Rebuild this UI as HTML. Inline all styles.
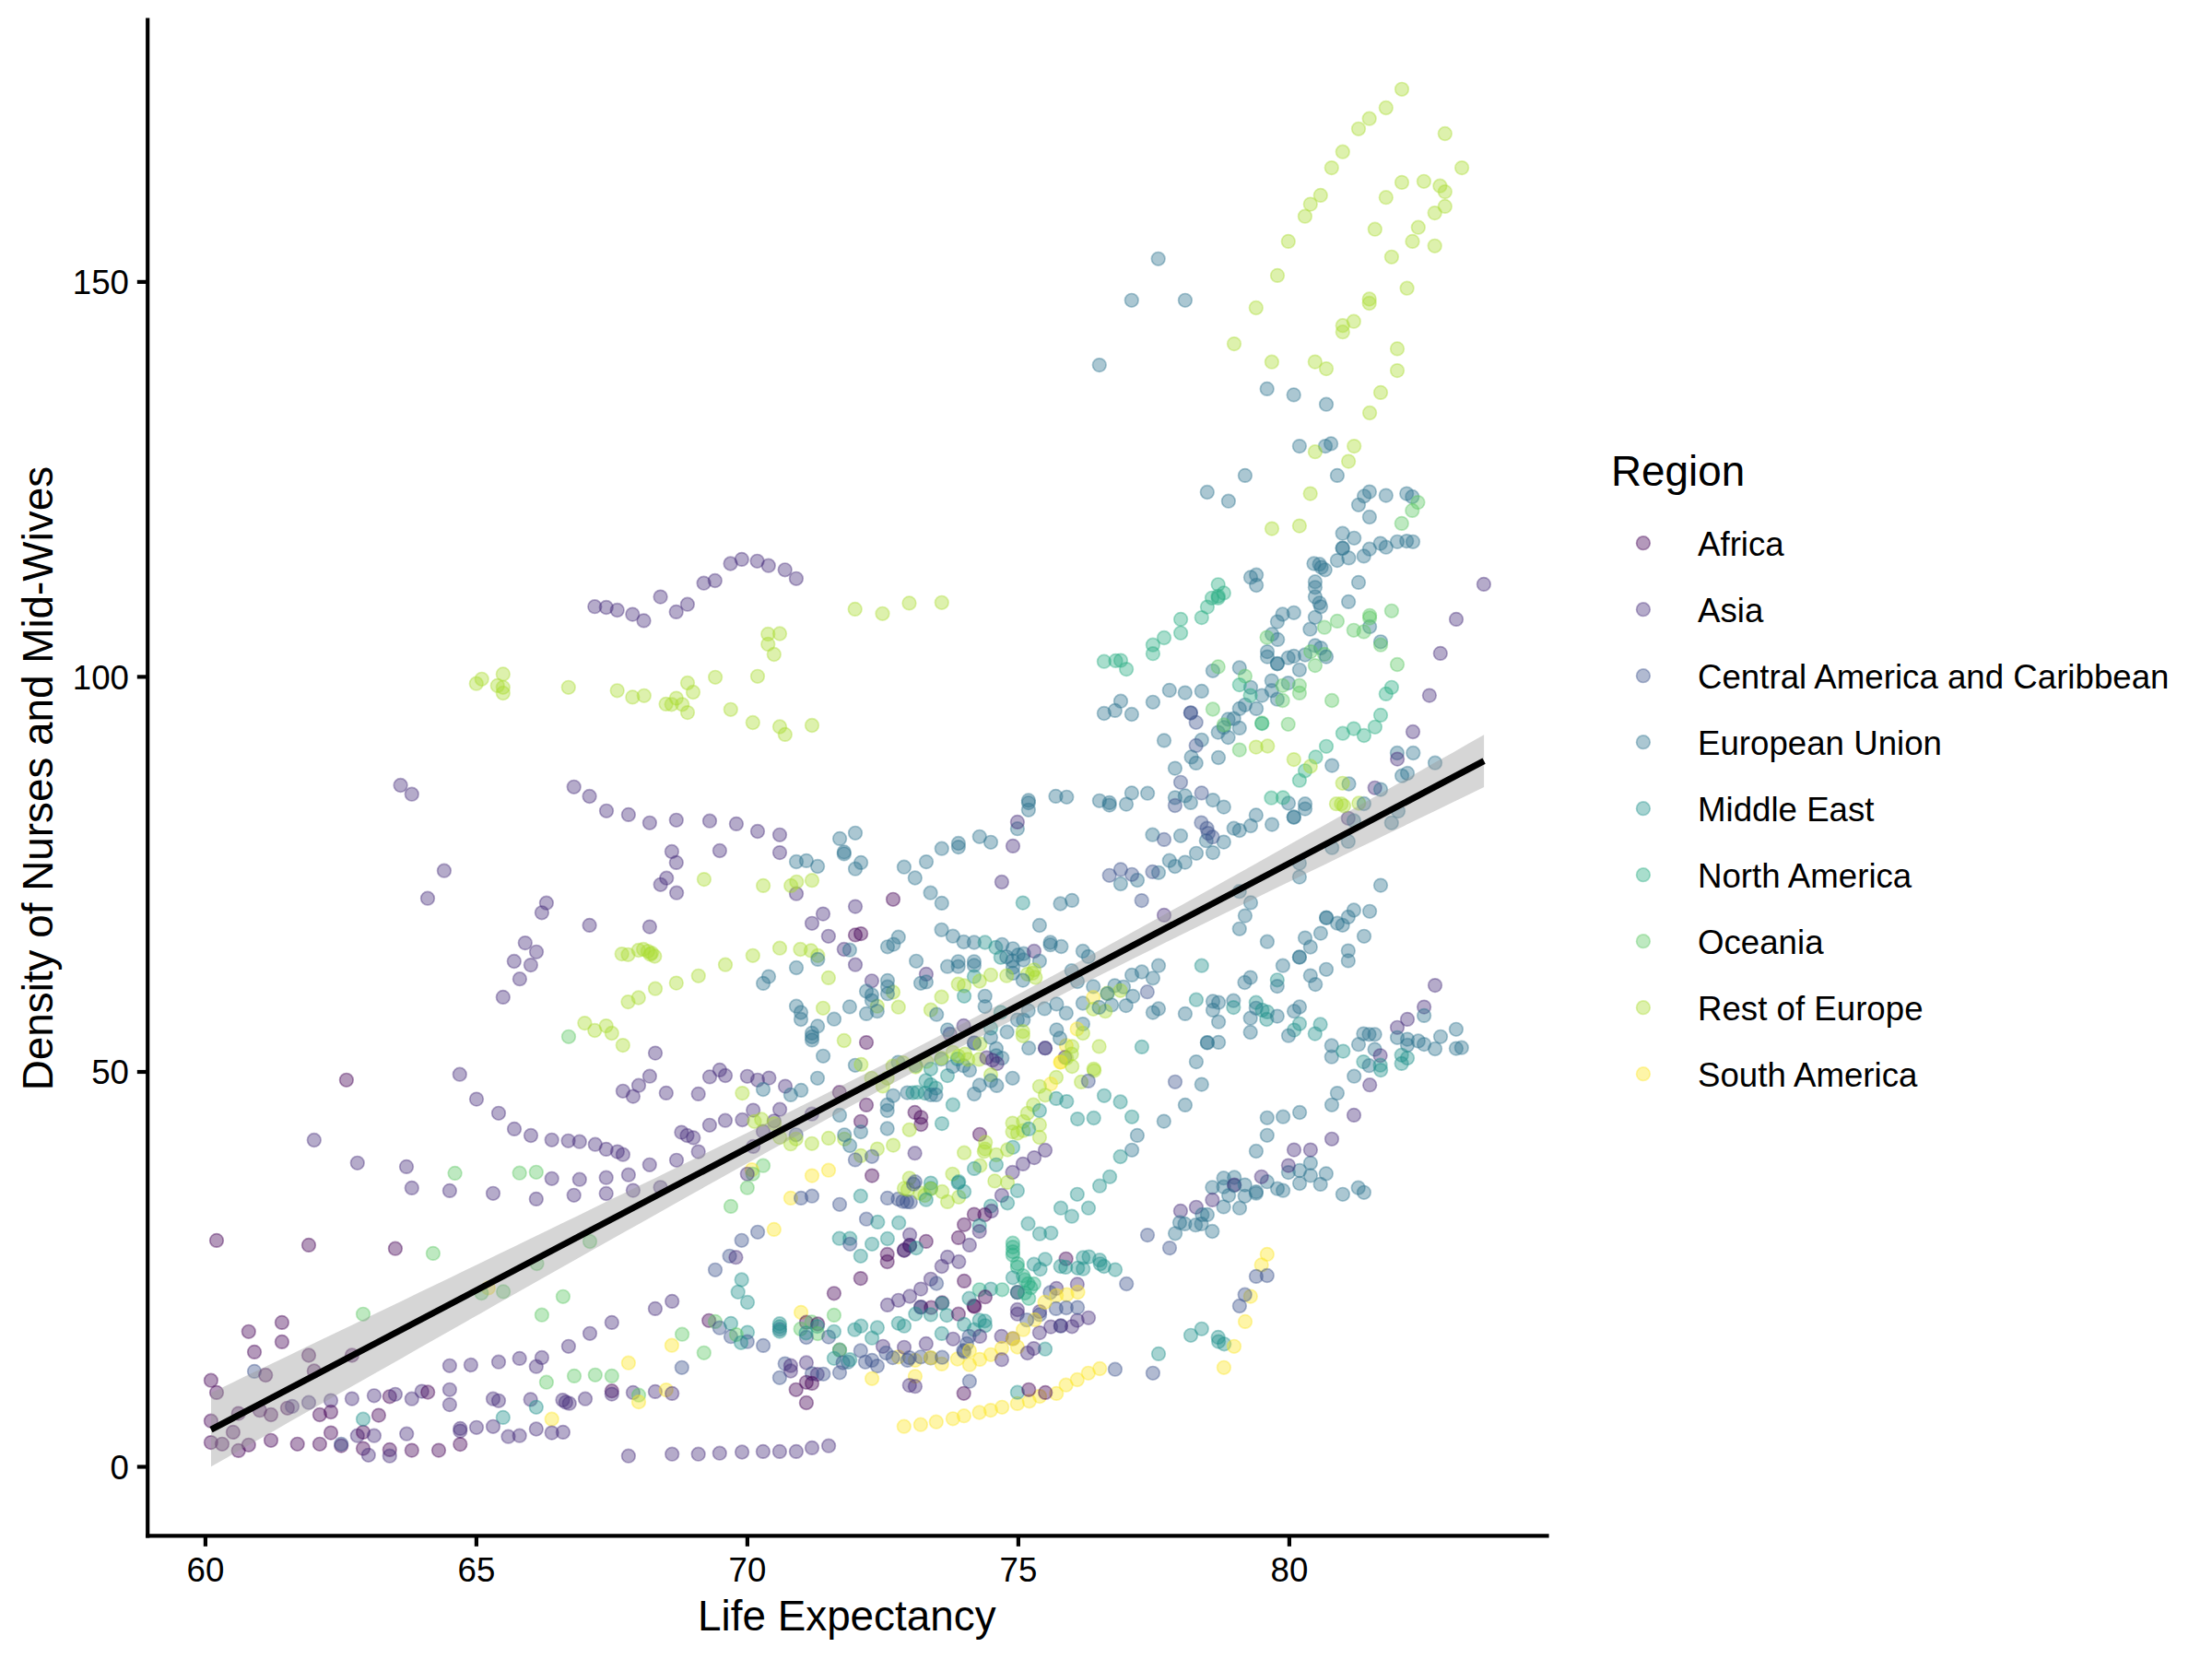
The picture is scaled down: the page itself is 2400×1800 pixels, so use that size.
<!DOCTYPE html>
<html><head><meta charset="utf-8"><title>chart</title>
<style>
html,body{margin:0;padding:0;background:#fff;}
body{width:2400px;height:1800px;overflow:hidden;}
svg{display:block;}
text{font-family:"Liberation Sans",sans-serif;fill:#000;}
.t{font-size:36.67px;}
.T{font-size:45.83px;}
.p circle{fill-opacity:.4;stroke-opacity:.4;stroke-width:1.7;}
.c0{fill:#440154;stroke:#440154;}
.c1{fill:#472D7B;stroke:#472D7B;}
.c2{fill:#3B528B;stroke:#3B528B;}
.c3{fill:#2C728E;stroke:#2C728E;}
.c4{fill:#21908C;stroke:#21908C;}
.c5{fill:#27AD81;stroke:#27AD81;}
.c6{fill:#5DC863;stroke:#5DC863;}
.c7{fill:#AADC32;stroke:#AADC32;}
.c8{fill:#FDE725;stroke:#FDE725;}
</style></head><body>
<svg xmlns="http://www.w3.org/2000/svg" width="2400" height="1800" viewBox="0 0 2400 1800">
<rect width="2400" height="1800" fill="#fff"/>
<g class="p">
<circle class="c0" cx="999.3" cy="1212.3" r="7.3"/>
<circle class="c0" cx="999.3" cy="1220.0" r="7.3"/>
<circle class="c7" cx="1005.4" cy="1151.7" r="7.3"/>
<circle class="c3" cx="1021.2" cy="1149.2" r="7.3"/>
<circle class="c7" cx="1021.7" cy="1148.1" r="7.3"/>
<circle class="c7" cx="1033.9" cy="1141.8" r="7.3"/>
<circle class="c4" cx="1009.9" cy="1159.8" r="7.3"/>
<circle class="c4" cx="1028.0" cy="1167.1" r="7.3"/>
<circle class="c3" cx="1033.9" cy="1157.1" r="7.3"/>
<circle class="c4" cx="1038.9" cy="1149.0" r="7.3"/>
<circle class="c3" cx="1045.2" cy="1156.2" r="7.3"/>
<circle class="c3" cx="1052.0" cy="1161.2" r="7.3"/>
<circle class="c7" cx="1047.0" cy="1143.6" r="7.3"/>
<circle class="c7" cx="1050.2" cy="1149.4" r="7.3"/>
<circle class="c7" cx="1062.4" cy="1149.4" r="7.3"/>
<circle class="c7" cx="1039.8" cy="1145.8" r="7.3"/>
<circle class="c1" cx="1057.0" cy="1131.4" r="7.3"/>
<circle class="c3" cx="1057.0" cy="1131.8" r="7.3"/>
<circle class="c7" cx="1063.3" cy="1132.7" r="7.3"/>
<circle class="c3" cx="1080.9" cy="1137.7" r="7.3"/>
<circle class="c3" cx="1080.9" cy="1145.4" r="7.3"/>
<circle class="c3" cx="1087.3" cy="1148.1" r="7.3"/>
<circle class="c1" cx="1070.5" cy="1147.6" r="7.3"/>
<circle class="c1" cx="1076.9" cy="1150.3" r="7.3"/>
<circle class="c1" cx="1081.8" cy="1154.0" r="7.3"/>
<circle class="c7" cx="1075.0" cy="1166.2" r="7.3"/>
<circle class="c3" cx="1075.0" cy="1172.5" r="7.3"/>
<circle class="c3" cx="1062.8" cy="1177.5" r="7.3"/>
<circle class="c3" cx="1081.4" cy="1177.9" r="7.3"/>
<circle class="c3" cx="1057.0" cy="1187.0" r="7.3"/>
<circle class="c3" cx="1098.6" cy="1169.8" r="7.3"/>
<circle class="c4" cx="1004.5" cy="1172.5" r="7.3"/>
<circle class="c4" cx="1009.9" cy="1177.0" r="7.3"/>
<circle class="c4" cx="1015.4" cy="1180.6" r="7.3"/>
<circle class="c4" cx="1003.6" cy="1186.1" r="7.3"/>
<circle class="c3" cx="1009.9" cy="1187.9" r="7.3"/>
<circle class="c3" cx="1015.4" cy="1187.9" r="7.3"/>
<circle class="c4" cx="1033.9" cy="1198.7" r="7.3"/>
<circle class="c4" cx="1022.0" cy="1219.1" r="7.3"/>
<circle class="c3" cx="1116.2" cy="1137.2" r="7.3"/>
<circle class="c2" cx="1134.0" cy="1137.2" r="7.3"/>
<circle class="c1" cx="1134.0" cy="1137.2" r="7.3"/>
<circle class="c8" cx="1156.9" cy="1134.5" r="7.3"/>
<circle class="c7" cx="1163.2" cy="1135.4" r="7.3"/>
<circle class="c1" cx="1155.5" cy="1147.2" r="7.3"/>
<circle class="c7" cx="1162.7" cy="1143.6" r="7.3"/>
<circle class="c8" cx="1150.5" cy="1152.6" r="7.3"/>
<circle class="c8" cx="1151.0" cy="1152.2" r="7.3"/>
<circle class="c7" cx="1163.2" cy="1157.1" r="7.3"/>
<circle class="c7" cx="1157.3" cy="1148.1" r="7.3"/>
<circle class="c7" cx="1192.6" cy="1135.4" r="7.3"/>
<circle class="c7" cx="1186.7" cy="1159.8" r="7.3"/>
<circle class="c7" cx="1187.2" cy="1161.6" r="7.3"/>
<circle class="c7" cx="1173.1" cy="1173.9" r="7.3"/>
<circle class="c2" cx="1180.8" cy="1172.9" r="7.3"/>
<circle class="c7" cx="1146.0" cy="1168.9" r="7.3"/>
<circle class="c8" cx="1140.1" cy="1176.1" r="7.3"/>
<circle class="c7" cx="1127.9" cy="1178.8" r="7.3"/>
<circle class="c7" cx="1134.0" cy="1188.3" r="7.3"/>
<circle class="c7" cx="1121.2" cy="1198.7" r="7.3"/>
<circle class="c7" cx="1114.8" cy="1207.8" r="7.3"/>
<circle class="c7" cx="1110.3" cy="1216.8" r="7.3"/>
<circle class="c7" cx="1098.6" cy="1218.6" r="7.3"/>
<circle class="c7" cx="1127.9" cy="1220.4" r="7.3"/>
<circle class="c7" cx="1098.6" cy="1228.1" r="7.3"/>
<circle class="c7" cx="1104.0" cy="1229.5" r="7.3"/>
<circle class="c7" cx="1110.3" cy="1226.7" r="7.3"/>
<circle class="c7" cx="1127.9" cy="1234.0" r="7.3"/>
<circle class="c4" cx="1146.0" cy="1191.9" r="7.3"/>
<circle class="c4" cx="1157.3" cy="1195.1" r="7.3"/>
<circle class="c4" cx="1127.9" cy="1205.0" r="7.3"/>
<circle class="c4" cx="1116.2" cy="1224.9" r="7.3"/>
<circle class="c4" cx="1169.1" cy="1214.1" r="7.3"/>
<circle class="c4" cx="1186.7" cy="1213.0" r="7.3"/>
<circle class="c4" cx="1198.0" cy="1188.8" r="7.3"/>
<circle class="c4" cx="1099.0" cy="1244.8" r="7.3"/>
<circle class="c0" cx="1063.0" cy="1230.8" r="7.3"/>
<circle class="c7" cx="1069.2" cy="1239.4" r="7.3"/>
<circle class="c7" cx="1068.7" cy="1246.6" r="7.3"/>
<circle class="c7" cx="1067.8" cy="1249.3" r="7.3"/>
<circle class="c7" cx="1046.1" cy="1250.7" r="7.3"/>
<circle class="c7" cx="1080.9" cy="1253.0" r="7.3"/>
<circle class="c7" cx="1093.1" cy="1247.5" r="7.3"/>
<circle class="c7" cx="1063.3" cy="1264.7" r="7.3"/>
<circle class="c7" cx="1033.5" cy="1273.8" r="7.3"/>
<circle class="c4" cx="1057.0" cy="1267.9" r="7.3"/>
<circle class="c4" cx="1080.9" cy="1263.8" r="7.3"/>
<circle class="c1" cx="1098.6" cy="1272.0" r="7.3"/>
<circle class="c1" cx="1109.9" cy="1262.9" r="7.3"/>
<circle class="c1" cx="1122.1" cy="1256.1" r="7.3"/>
<circle class="c1" cx="1134.0" cy="1248.0" r="7.3"/>
<circle class="c4" cx="1204.1" cy="1276.8" r="7.3"/>
<circle class="c4" cx="1193.1" cy="1286.7" r="7.3"/>
<circle class="c4" cx="1168.8" cy="1295.8" r="7.3"/>
<circle class="c4" cx="1151.0" cy="1310.7" r="7.3"/>
<circle class="c4" cx="1181.0" cy="1310.7" r="7.3"/>
<circle class="c4" cx="1162.9" cy="1319.7" r="7.3"/>
<circle class="c4" cx="1128.0" cy="1338.7" r="7.3"/>
<circle class="c4" cx="1140.3" cy="1337.8" r="7.3"/>
<circle class="c4" cx="1134.0" cy="1366.3" r="7.3"/>
<circle class="c4" cx="1121.8" cy="1371.7" r="7.3"/>
<circle class="c4" cx="1128.6" cy="1377.1" r="7.3"/>
<circle class="c0" cx="1156.6" cy="1365.8" r="7.3"/>
<circle class="c4" cx="1150.7" cy="1374.0" r="7.3"/>
<circle class="c4" cx="1156.2" cy="1374.9" r="7.3"/>
<circle class="c4" cx="1169.3" cy="1375.8" r="7.3"/>
<circle class="c4" cx="1175.2" cy="1376.7" r="7.3"/>
<circle class="c4" cx="1175.2" cy="1364.5" r="7.3"/>
<circle class="c4" cx="1181.5" cy="1363.6" r="7.3"/>
<circle class="c4" cx="1193.1" cy="1367.2" r="7.3"/>
<circle class="c4" cx="1193.7" cy="1371.3" r="7.3"/>
<circle class="c4" cx="1197.8" cy="1374.0" r="7.3"/>
<circle class="c4" cx="1210.0" cy="1377.6" r="7.3"/>
<circle class="c2" cx="1222.2" cy="1393.0" r="7.3"/>
<circle class="c2" cx="1245.0" cy="1340.1" r="7.3"/>
<circle class="c2" cx="1269.0" cy="1354.1" r="7.3"/>
<circle class="c1" cx="1280.9" cy="1313.9" r="7.3"/>
<circle class="c1" cx="1297.9" cy="1309.8" r="7.3"/>
<circle class="c3" cx="1280.0" cy="1326.5" r="7.3"/>
<circle class="c3" cx="1285.5" cy="1327.9" r="7.3"/>
<circle class="c3" cx="1275.1" cy="1338.3" r="7.3"/>
<circle class="c3" cx="1297.2" cy="1329.2" r="7.3"/>
<circle class="c3" cx="1303.5" cy="1327.9" r="7.3"/>
<circle class="c3" cx="1304.4" cy="1317.9" r="7.3"/>
<circle class="c3" cx="1309.9" cy="1317.9" r="7.3"/>
<circle class="c3" cx="1315.3" cy="1336.0" r="7.3"/>
<circle class="c5" cx="1121.8" cy="1393.0" r="7.3"/>
<circle class="c1" cx="1168.8" cy="1393.4" r="7.3"/>
<circle class="c1" cx="1146.2" cy="1397.9" r="7.3"/>
<circle class="c2" cx="1139.4" cy="1402.5" r="7.3"/>
<circle class="c8" cx="1157.5" cy="1404.7" r="7.3"/>
<circle class="c8" cx="1169.5" cy="1402.0" r="7.3"/>
<circle class="c8" cx="1146.2" cy="1405.6" r="7.3"/>
<circle class="c8" cx="1128.1" cy="1515.0" r="7.3"/>
<circle class="c8" cx="1146.2" cy="1511.9" r="7.3"/>
<circle class="c8" cx="1156.6" cy="1502.7" r="7.3"/>
<circle class="c8" cx="1168.8" cy="1497.0" r="7.3"/>
<circle class="c8" cx="1180.8" cy="1489.8" r="7.3"/>
<circle class="c8" cx="1193.2" cy="1485.0" r="7.3"/>
<circle class="c0" cx="1134.2" cy="1510.9" r="7.3"/>
<circle class="c2" cx="1209.9" cy="1485.7" r="7.3"/>
<circle class="c2" cx="1250.9" cy="1489.8" r="7.3"/>
<circle class="c4" cx="1257.0" cy="1468.9" r="7.3"/>
<circle class="c4" cx="1292.0" cy="1448.8" r="7.3"/>
<circle class="c4" cx="1303.8" cy="1441.8" r="7.3"/>
<circle class="c4" cx="1321.7" cy="1450.9" r="7.3"/>
<circle class="c4" cx="1322.1" cy="1455.6" r="7.3"/>
<circle class="c4" cx="1328.2" cy="1458.3" r="7.3"/>
<circle class="c8" cx="1339.0" cy="1460.8" r="7.3"/>
<circle class="c8" cx="1327.9" cy="1483.8" r="7.3"/>
<circle class="c8" cx="1351.0" cy="1433.9" r="7.3"/>
<circle class="c2" cx="1344.9" cy="1417.0" r="7.3"/>
<circle class="c4" cx="1134.0" cy="1463.7" r="7.3"/>
<circle class="c1" cx="1121.6" cy="1463.1" r="7.3"/>
<circle class="c1" cx="1127.9" cy="1446.1" r="7.3"/>
<circle class="c1" cx="1140.1" cy="1439.6" r="7.3"/>
<circle class="c2" cx="1150.9" cy="1438.7" r="7.3"/>
<circle class="c1" cx="1150.9" cy="1438.4" r="7.3"/>
<circle class="c1" cx="1163.1" cy="1439.3" r="7.3"/>
<circle class="c1" cx="1168.8" cy="1432.6" r="7.3"/>
<circle class="c1" cx="1181.0" cy="1429.8" r="7.3"/>
<circle class="c2" cx="1145.8" cy="1419.9" r="7.3"/>
<circle class="c2" cx="1156.9" cy="1419.0" r="7.3"/>
<circle class="c2" cx="1169.1" cy="1418.6" r="7.3"/>
<circle class="c1" cx="1128.1" cy="1423.1" r="7.3"/>
<circle class="c2" cx="1128.1" cy="1426.4" r="7.3"/>
<circle class="c8" cx="1122.7" cy="1431.9" r="7.3"/>
<circle class="c8" cx="1133.6" cy="1412.9" r="7.3"/>
<circle class="c5" cx="1197.9" cy="717.7" r="7.3"/>
<circle class="c5" cx="1210.5" cy="716.9" r="7.3"/>
<circle class="c5" cx="1216.0" cy="716.6" r="7.3"/>
<circle class="c5" cx="1222.1" cy="726.1" r="7.3"/>
<circle class="c5" cx="1250.9" cy="699.7" r="7.3"/>
<circle class="c5" cx="1250.9" cy="709.2" r="7.3"/>
<circle class="c5" cx="1263.0" cy="692.0" r="7.3"/>
<circle class="c5" cx="1281.1" cy="671.9" r="7.3"/>
<circle class="c5" cx="1281.1" cy="686.8" r="7.3"/>
<circle class="c5" cx="1303.8" cy="670.1" r="7.3"/>
<circle class="c5" cx="1309.9" cy="658.6" r="7.3"/>
<circle class="c5" cx="1315.0" cy="648.8" r="7.3"/>
<circle class="c5" cx="1321.7" cy="646.8" r="7.3"/>
<circle class="c5" cx="1321.7" cy="634.3" r="7.3"/>
<circle class="c5" cx="1327.8" cy="643.4" r="7.3"/>
<circle class="c5" cx="1321.7" cy="648.8" r="7.3"/>
<circle class="c3" cx="1357.0" cy="626.4" r="7.3"/>
<circle class="c3" cx="1363.1" cy="623.7" r="7.3"/>
<circle class="c3" cx="1363.1" cy="635.0" r="7.3"/>
<circle class="c3" cx="1425.5" cy="611.5" r="7.3"/>
<circle class="c3" cx="1431.6" cy="612.2" r="7.3"/>
<circle class="c3" cx="1433.6" cy="615.6" r="7.3"/>
<circle class="c3" cx="1437.7" cy="618.3" r="7.3"/>
<circle class="c3" cx="1426.9" cy="631.2" r="7.3"/>
<circle class="c3" cx="1426.9" cy="637.3" r="7.3"/>
<circle class="c3" cx="1426.9" cy="647.5" r="7.3"/>
<circle class="c3" cx="1431.6" cy="654.3" r="7.3"/>
<circle class="c3" cx="1433.0" cy="658.3" r="7.3"/>
<circle class="c3" cx="1426.9" cy="669.8" r="7.3"/>
<circle class="c3" cx="1421.4" cy="682.7" r="7.3"/>
<circle class="c3" cx="1403.8" cy="664.8" r="7.3"/>
<circle class="c3" cx="1391.6" cy="666.5" r="7.3"/>
<circle class="c3" cx="1385.9" cy="674.6" r="7.3"/>
<circle class="c3" cx="1380.1" cy="688.2" r="7.3"/>
<circle class="c3" cx="1386.2" cy="693.9" r="7.3"/>
<circle class="c3" cx="1375.0" cy="707.1" r="7.3"/>
<circle class="c3" cx="1375.0" cy="712.6" r="7.3"/>
<circle class="c3" cx="1385.9" cy="720.0" r="7.3"/>
<circle class="c3" cx="1385.9" cy="720.3" r="7.3"/>
<circle class="c3" cx="1397.7" cy="713.7" r="7.3"/>
<circle class="c3" cx="1403.8" cy="711.9" r="7.3"/>
<circle class="c3" cx="1416.0" cy="710.5" r="7.3"/>
<circle class="c3" cx="1426.9" cy="700.4" r="7.3"/>
<circle class="c3" cx="1433.0" cy="703.1" r="7.3"/>
<circle class="c3" cx="1409.9" cy="726.8" r="7.3"/>
<circle class="c3" cx="1344.8" cy="724.5" r="7.3"/>
<circle class="c3" cx="1315.9" cy="727.8" r="7.3"/>
<circle class="c3" cx="1379.8" cy="738.6" r="7.3"/>
<circle class="c3" cx="1397.7" cy="741.1" r="7.3"/>
<circle class="c3" cx="1357.0" cy="745.8" r="7.3"/>
<circle class="c3" cx="1379.8" cy="749.2" r="7.3"/>
<circle class="c3" cx="1369.2" cy="754.6" r="7.3"/>
<circle class="c3" cx="1385.9" cy="758.7" r="7.3"/>
<circle class="c3" cx="1363.1" cy="768.9" r="7.3"/>
<circle class="c3" cx="1350.9" cy="764.8" r="7.3"/>
<circle class="c3" cx="1344.8" cy="768.9" r="7.3"/>
<circle class="c3" cx="1338.7" cy="779.7" r="7.3"/>
<circle class="c3" cx="1332.6" cy="780.4" r="7.3"/>
<circle class="c3" cx="1344.8" cy="789.9" r="7.3"/>
<circle class="c3" cx="1327.8" cy="789.2" r="7.3"/>
<circle class="c3" cx="1321.7" cy="794.6" r="7.3"/>
<circle class="c3" cx="1332.6" cy="800.1" r="7.3"/>
<circle class="c3" cx="1303.8" cy="802.8" r="7.3"/>
<circle class="c3" cx="1263.0" cy="803.4" r="7.3"/>
<circle class="c3" cx="1268.8" cy="748.9" r="7.3"/>
<circle class="c3" cx="1285.8" cy="751.6" r="7.3"/>
<circle class="c3" cx="1303.8" cy="749.9" r="7.3"/>
<circle class="c3" cx="1250.9" cy="761.8" r="7.3"/>
<circle class="c3" cx="1216.0" cy="760.7" r="7.3"/>
<circle class="c3" cx="1209.8" cy="770.9" r="7.3"/>
<circle class="c3" cx="1197.9" cy="774.0" r="7.3"/>
<circle class="c3" cx="1227.9" cy="775.0" r="7.3"/>
<circle class="c6" cx="1321.7" cy="723.4" r="7.3"/>
<circle class="c6" cx="1350.9" cy="733.6" r="7.3"/>
<circle class="c6" cx="1374.6" cy="691.6" r="7.3"/>
<circle class="c6" cx="1437.0" cy="680.7" r="7.3"/>
<circle class="c6" cx="1426.9" cy="722.1" r="7.3"/>
<circle class="c6" cx="1422.1" cy="707.1" r="7.3"/>
<circle class="c6" cx="1437.0" cy="709.9" r="7.3"/>
<circle class="c6" cx="1391.6" cy="743.8" r="7.3"/>
<circle class="c6" cx="1409.9" cy="743.8" r="7.3"/>
<circle class="c6" cx="1409.9" cy="751.9" r="7.3"/>
<circle class="c6" cx="1391.6" cy="760.0" r="7.3"/>
<circle class="c6" cx="1315.9" cy="769.5" r="7.3"/>
<circle class="c6" cx="1369.2" cy="784.5" r="7.3"/>
<circle class="c5" cx="1369.2" cy="785.1" r="7.3"/>
<circle class="c6" cx="1397.7" cy="785.8" r="7.3"/>
<circle class="c6" cx="1327.8" cy="786.5" r="7.3"/>
<circle class="c6" cx="1344.8" cy="813.6" r="7.3"/>
<circle class="c5" cx="1344.8" cy="743.1" r="7.3"/>
<circle class="c5" cx="1356.6" cy="754.6" r="7.3"/>
<circle class="c7" cx="1362.8" cy="810.6" r="7.3"/>
<circle class="c7" cx="1375.3" cy="809.5" r="7.3"/>
<circle class="c2" cx="1291.9" cy="773.3" r="7.3"/>
<circle class="c2" cx="1291.9" cy="773.6" r="7.3"/>
<circle class="c2" cx="1297.7" cy="783.8" r="7.3"/>
<circle class="c2" cx="1297.7" cy="808.9" r="7.3"/>
<circle class="c7" cx="1521.0" cy="96.8" r="7.3"/>
<circle class="c7" cx="1503.8" cy="117.0" r="7.3"/>
<circle class="c7" cx="1485.7" cy="128.7" r="7.3"/>
<circle class="c7" cx="1474.0" cy="139.8" r="7.3"/>
<circle class="c7" cx="1456.8" cy="164.7" r="7.3"/>
<circle class="c7" cx="1444.8" cy="182.1" r="7.3"/>
<circle class="c7" cx="1432.8" cy="211.9" r="7.3"/>
<circle class="c7" cx="1421.8" cy="221.6" r="7.3"/>
<circle class="c7" cx="1415.9" cy="234.7" r="7.3"/>
<circle class="c7" cx="1397.8" cy="261.9" r="7.3"/>
<circle class="c7" cx="1386.0" cy="298.9" r="7.3"/>
<circle class="c7" cx="1362.8" cy="334.0" r="7.3"/>
<circle class="c7" cx="1339.0" cy="373.1" r="7.3"/>
<circle class="c7" cx="1379.9" cy="392.7" r="7.3"/>
<circle class="c7" cx="1567.8" cy="145.0" r="7.3"/>
<circle class="c7" cx="1586.1" cy="182.1" r="7.3"/>
<circle class="c7" cx="1521.0" cy="197.9" r="7.3"/>
<circle class="c7" cx="1544.9" cy="196.8" r="7.3"/>
<circle class="c7" cx="1562.4" cy="201.7" r="7.3"/>
<circle class="c7" cx="1567.8" cy="208.1" r="7.3"/>
<circle class="c7" cx="1503.8" cy="214.2" r="7.3"/>
<circle class="c7" cx="1567.8" cy="223.9" r="7.3"/>
<circle class="c7" cx="1556.7" cy="231.1" r="7.3"/>
<circle class="c7" cx="1538.8" cy="246.7" r="7.3"/>
<circle class="c7" cx="1491.8" cy="248.7" r="7.3"/>
<circle class="c7" cx="1532.5" cy="261.9" r="7.3"/>
<circle class="c7" cx="1556.7" cy="266.8" r="7.3"/>
<circle class="c7" cx="1509.9" cy="278.8" r="7.3"/>
<circle class="c7" cx="1526.6" cy="312.7" r="7.3"/>
<circle class="c7" cx="1485.7" cy="324.5" r="7.3"/>
<circle class="c7" cx="1485.7" cy="329.0" r="7.3"/>
<circle class="c7" cx="1468.8" cy="348.7" r="7.3"/>
<circle class="c7" cx="1456.8" cy="353.2" r="7.3"/>
<circle class="c7" cx="1456.8" cy="360.2" r="7.3"/>
<circle class="c3" cx="1256.7" cy="280.8" r="7.3"/>
<circle class="c3" cx="1227.8" cy="325.8" r="7.3"/>
<circle class="c3" cx="1285.9" cy="325.8" r="7.3"/>
<circle class="c3" cx="1192.8" cy="396.1" r="7.3"/>
<circle class="c3" cx="1374.7" cy="421.9" r="7.3"/>
<circle class="c3" cx="1403.7" cy="428.4" r="7.3"/>
<circle class="c3" cx="1192.9" cy="868.8" r="7.3"/>
<circle class="c3" cx="1203.7" cy="870.9" r="7.3"/>
<circle class="c3" cx="1203.7" cy="873.6" r="7.3"/>
<circle class="c3" cx="1222.0" cy="872.6" r="7.3"/>
<circle class="c3" cx="1227.9" cy="860.4" r="7.3"/>
<circle class="c3" cx="1245.1" cy="860.7" r="7.3"/>
<circle class="c3" cx="1274.9" cy="833.6" r="7.3"/>
<circle class="c3" cx="1292.6" cy="821.4" r="7.3"/>
<circle class="c3" cx="1297.7" cy="827.9" r="7.3"/>
<circle class="c3" cx="1322.0" cy="822.0" r="7.3"/>
<circle class="c3" cx="1274.9" cy="865.4" r="7.3"/>
<circle class="c3" cx="1285.8" cy="863.4" r="7.3"/>
<circle class="c3" cx="1291.9" cy="870.9" r="7.3"/>
<circle class="c3" cx="1316.0" cy="868.1" r="7.3"/>
<circle class="c3" cx="1327.8" cy="875.6" r="7.3"/>
<circle class="c3" cx="1362.8" cy="884.4" r="7.3"/>
<circle class="c3" cx="1357.0" cy="896.0" r="7.3"/>
<circle class="c3" cx="1338.7" cy="898.7" r="7.3"/>
<circle class="c3" cx="1344.8" cy="901.0" r="7.3"/>
<circle class="c3" cx="1380.1" cy="894.6" r="7.3"/>
<circle class="c3" cx="1398.0" cy="871.5" r="7.3"/>
<circle class="c3" cx="1416.0" cy="872.2" r="7.3"/>
<circle class="c3" cx="1416.0" cy="877.6" r="7.3"/>
<circle class="c3" cx="1403.8" cy="886.5" r="7.3"/>
<circle class="c3" cx="1403.8" cy="886.7" r="7.3"/>
<circle class="c3" cx="1445.2" cy="830.6" r="7.3"/>
<circle class="c3" cx="1463.5" cy="850.5" r="7.3"/>
<circle class="c3" cx="1250.5" cy="905.7" r="7.3"/>
<circle class="c3" cx="1281.0" cy="906.8" r="7.3"/>
<circle class="c3" cx="1308.8" cy="912.2" r="7.3"/>
<circle class="c3" cx="1327.8" cy="913.6" r="7.3"/>
<circle class="c3" cx="1316.0" cy="925.1" r="7.3"/>
<circle class="c3" cx="1298.0" cy="925.8" r="7.3"/>
<circle class="c3" cx="1285.8" cy="935.6" r="7.3"/>
<circle class="c3" cx="1268.8" cy="933.7" r="7.3"/>
<circle class="c3" cx="1274.9" cy="940.0" r="7.3"/>
<circle class="c3" cx="1257.0" cy="946.8" r="7.3"/>
<circle class="c3" cx="1234.0" cy="955.0" r="7.3"/>
<circle class="c3" cx="1215.9" cy="959.0" r="7.3"/>
<circle class="c2" cx="1281.0" cy="848.8" r="7.3"/>
<circle class="c2" cx="1303.7" cy="860.4" r="7.3"/>
<circle class="c2" cx="1274.9" cy="874.0" r="7.3"/>
<circle class="c2" cx="1303.4" cy="892.6" r="7.3"/>
<circle class="c2" cx="1309.5" cy="898.7" r="7.3"/>
<circle class="c2" cx="1310.9" cy="904.1" r="7.3"/>
<circle class="c2" cx="1315.6" cy="908.2" r="7.3"/>
<circle class="c2" cx="1263.0" cy="910.9" r="7.3"/>
<circle class="c2" cx="1203.7" cy="949.8" r="7.3"/>
<circle class="c2" cx="1215.9" cy="943.4" r="7.3"/>
<circle class="c2" cx="1228.1" cy="948.8" r="7.3"/>
<circle class="c2" cx="1250.5" cy="945.9" r="7.3"/>
<circle class="c2" cx="1238.7" cy="977.1" r="7.3"/>
<circle class="c1" cx="1263.0" cy="992.9" r="7.3"/>
<circle class="c1" cx="1462.8" cy="887.8" r="7.3"/>
<circle class="c5" cx="1379.4" cy="865.7" r="7.3"/>
<circle class="c5" cx="1392.0" cy="865.4" r="7.3"/>
<circle class="c5" cx="1409.9" cy="846.7" r="7.3"/>
<circle class="c5" cx="1416.0" cy="836.3" r="7.3"/>
<circle class="c5" cx="1427.5" cy="821.4" r="7.3"/>
<circle class="c7" cx="1403.8" cy="824.1" r="7.3"/>
<circle class="c7" cx="1421.8" cy="831.5" r="7.3"/>
<circle class="c7" cx="1456.7" cy="849.8" r="7.3"/>
<circle class="c7" cx="1449.9" cy="872.2" r="7.3"/>
<circle class="c7" cx="1455.3" cy="872.2" r="7.3"/>
<circle class="c7" cx="1458.0" cy="874.3" r="7.3"/>
<circle class="c7" cx="1474.3" cy="871.5" r="7.3"/>
<circle class="c3" cx="1468.9" cy="890.5" r="7.3"/>
<circle class="c3" cx="1462.8" cy="912.9" r="7.3"/>
<circle class="c3" cx="1445.2" cy="919.7" r="7.3"/>
<circle class="c3" cx="1409.9" cy="936.6" r="7.3"/>
<circle class="c3" cx="1409.9" cy="951.6" r="7.3"/>
<circle class="c3" cx="1344.8" cy="967.2" r="7.3"/>
<circle class="c3" cx="1357.0" cy="979.4" r="7.3"/>
<circle class="c3" cx="1350.9" cy="993.6" r="7.3"/>
<circle class="c3" cx="1344.8" cy="1007.8" r="7.3"/>
<circle class="c3" cx="1374.9" cy="1021.7" r="7.3"/>
<circle class="c3" cx="1416.0" cy="1017.6" r="7.3"/>
<circle class="c3" cx="1421.8" cy="1027.5" r="7.3"/>
<circle class="c3" cx="1432.9" cy="1012.6" r="7.3"/>
<circle class="c3" cx="1439.1" cy="995.6" r="7.3"/>
<circle class="c3" cx="1439.1" cy="995.9" r="7.3"/>
<circle class="c3" cx="1451.0" cy="1001.7" r="7.3"/>
<circle class="c3" cx="1456.7" cy="1003.8" r="7.3"/>
<circle class="c3" cx="1462.8" cy="995.0" r="7.3"/>
<circle class="c3" cx="1468.9" cy="987.5" r="7.3"/>
<circle class="c3" cx="1462.8" cy="1031.6" r="7.3"/>
<circle class="c3" cx="1462.8" cy="1042.4" r="7.3"/>
<circle class="c3" cx="1409.9" cy="1038.4" r="7.3"/>
<circle class="c3" cx="1409.9" cy="1038.6" r="7.3"/>
<circle class="c3" cx="1228.1" cy="1057.9" r="7.3"/>
<circle class="c3" cx="1238.9" cy="1054.5" r="7.3"/>
<circle class="c3" cx="1250.9" cy="1061.3" r="7.3"/>
<circle class="c3" cx="1257.0" cy="1047.7" r="7.3"/>
<circle class="c3" cx="1209.5" cy="1069.4" r="7.3"/>
<circle class="c3" cx="1219.0" cy="1070.8" r="7.3"/>
<circle class="c7" cx="1215.6" cy="1074.8" r="7.3"/>
<circle class="c3" cx="1229.2" cy="1080.9" r="7.3"/>
<circle class="c3" cx="1221.7" cy="1091.1" r="7.3"/>
<circle class="c3" cx="1206.1" cy="1090.4" r="7.3"/>
<circle class="c7" cx="1201.4" cy="1077.6" r="7.3"/>
<circle class="c3" cx="1201.4" cy="1078.2" r="7.3"/>
<circle class="c7" cx="1199.3" cy="1097.2" r="7.3"/>
<circle class="c2" cx="1244.8" cy="1076.2" r="7.3"/>
<circle class="c3" cx="1250.9" cy="1098.6" r="7.3"/>
<circle class="c3" cx="1257.0" cy="1094.5" r="7.3"/>
<circle class="c3" cx="1285.9" cy="1099.9" r="7.3"/>
<circle class="c4" cx="1303.8" cy="1047.7" r="7.3"/>
<circle class="c4" cx="1297.9" cy="1084.7" r="7.3"/>
<circle class="c3" cx="1316.0" cy="1086.4" r="7.3"/>
<circle class="c3" cx="1322.1" cy="1087.7" r="7.3"/>
<circle class="c3" cx="1316.0" cy="1095.9" r="7.3"/>
<circle class="c3" cx="1322.1" cy="1108.7" r="7.3"/>
<circle class="c3" cx="1338.3" cy="1085.7" r="7.3"/>
<circle class="c4" cx="1338.3" cy="1093.1" r="7.3"/>
<circle class="c3" cx="1350.5" cy="1066.0" r="7.3"/>
<circle class="c3" cx="1356.7" cy="1060.6" r="7.3"/>
<circle class="c4" cx="1385.8" cy="1063.3" r="7.3"/>
<circle class="c3" cx="1385.8" cy="1070.1" r="7.3"/>
<circle class="c3" cx="1391.9" cy="1047.7" r="7.3"/>
<circle class="c3" cx="1421.8" cy="1058.6" r="7.3"/>
<circle class="c3" cx="1427.2" cy="1068.1" r="7.3"/>
<circle class="c3" cx="1439.0" cy="1051.8" r="7.3"/>
<circle class="c4" cx="1362.8" cy="1087.7" r="7.3"/>
<circle class="c3" cx="1362.8" cy="1093.8" r="7.3"/>
<circle class="c4" cx="1369.5" cy="1095.9" r="7.3"/>
<circle class="c4" cx="1375.0" cy="1097.9" r="7.3"/>
<circle class="c4" cx="1374.3" cy="1106.0" r="7.3"/>
<circle class="c3" cx="1385.8" cy="1102.6" r="7.3"/>
<circle class="c3" cx="1356.7" cy="1104.7" r="7.3"/>
<circle class="c3" cx="1356.7" cy="1120.0" r="7.3"/>
<circle class="c3" cx="1410.0" cy="1092.5" r="7.3"/>
<circle class="c3" cx="1404.1" cy="1097.2" r="7.3"/>
<circle class="c4" cx="1410.0" cy="1110.8" r="7.3"/>
<circle class="c4" cx="1404.1" cy="1117.6" r="7.3"/>
<circle class="c3" cx="1398.0" cy="1123.7" r="7.3"/>
<circle class="c4" cx="1432.6" cy="1111.5" r="7.3"/>
<circle class="c4" cx="1426.8" cy="1121.6" r="7.3"/>
<circle class="c3" cx="1309.9" cy="1131.1" r="7.3"/>
<circle class="c3" cx="1309.9" cy="1131.4" r="7.3"/>
<circle class="c3" cx="1322.1" cy="1130.9" r="7.3"/>
<circle class="c4" cx="1238.9" cy="1135.9" r="7.3"/>
<circle class="c3" cx="1297.9" cy="1152.1" r="7.3"/>
<circle class="c3" cx="1303.8" cy="1176.6" r="7.3"/>
<circle class="c2" cx="1275.0" cy="1173.8" r="7.3"/>
<circle class="c3" cx="1444.8" cy="1134.5" r="7.3"/>
<circle class="c3" cx="1444.8" cy="1146.7" r="7.3"/>
<circle class="c4" cx="1457.3" cy="1140.6" r="7.3"/>
<circle class="c3" cx="1479.4" cy="1121.6" r="7.3"/>
<circle class="c3" cx="1485.5" cy="1122.3" r="7.3"/>
<circle class="c3" cx="1491.6" cy="1122.3" r="7.3"/>
<circle class="c3" cx="1474.0" cy="1133.2" r="7.3"/>
<circle class="c3" cx="1491.6" cy="1138.6" r="7.3"/>
<circle class="c4" cx="1479.4" cy="1152.1" r="7.3"/>
<circle class="c3" cx="1485.5" cy="1156.2" r="7.3"/>
<circle class="c3" cx="1469.2" cy="1167.7" r="7.3"/>
<circle class="c1" cx="1486.2" cy="1177.2" r="7.3"/>
<circle class="c3" cx="1450.9" cy="1186.1" r="7.3"/>
<circle class="c4" cx="1215.6" cy="1195.5" r="7.3"/>
<circle class="c4" cx="1228.1" cy="1211.8" r="7.3"/>
<circle class="c3" cx="1285.9" cy="1198.9" r="7.3"/>
<circle class="c3" cx="1262.8" cy="1216.6" r="7.3"/>
<circle class="c3" cx="1233.9" cy="1231.9" r="7.3"/>
<circle class="c3" cx="1228.1" cy="1247.8" r="7.3"/>
<circle class="c4" cx="1215.6" cy="1255.0" r="7.3"/>
<circle class="c3" cx="1409.9" cy="484.1" r="7.3"/>
<circle class="c3" cx="1438.0" cy="484.1" r="7.3"/>
<circle class="c3" cx="1444.1" cy="481.4" r="7.3"/>
<circle class="c3" cx="1350.9" cy="515.9" r="7.3"/>
<circle class="c3" cx="1309.8" cy="534.0" r="7.3"/>
<circle class="c3" cx="1332.9" cy="543.7" r="7.3"/>
<circle class="c3" cx="1450.9" cy="515.9" r="7.3"/>
<circle class="c3" cx="1485.9" cy="533.6" r="7.3"/>
<circle class="c3" cx="1480.1" cy="538.3" r="7.3"/>
<circle class="c3" cx="1474.0" cy="547.8" r="7.3"/>
<circle class="c3" cx="1503.8" cy="537.6" r="7.3"/>
<circle class="c3" cx="1526.2" cy="535.6" r="7.3"/>
<circle class="c3" cx="1532.3" cy="539.0" r="7.3"/>
<circle class="c3" cx="1485.9" cy="561.0" r="7.3"/>
<circle class="c3" cx="1456.7" cy="578.7" r="7.3"/>
<circle class="c3" cx="1469.2" cy="583.8" r="7.3"/>
<circle class="c3" cx="1456.7" cy="594.6" r="7.3"/>
<circle class="c3" cx="1456.7" cy="594.9" r="7.3"/>
<circle class="c3" cx="1485.9" cy="595.7" r="7.3"/>
<circle class="c3" cx="1497.7" cy="589.6" r="7.3"/>
<circle class="c3" cx="1503.8" cy="593.7" r="7.3"/>
<circle class="c3" cx="1516.0" cy="587.8" r="7.3"/>
<circle class="c3" cx="1526.2" cy="587.1" r="7.3"/>
<circle class="c3" cx="1533.0" cy="587.8" r="7.3"/>
<circle class="c7" cx="1426.9" cy="490.2" r="7.3"/>
<circle class="c7" cx="1469.2" cy="484.1" r="7.3"/>
<circle class="c7" cx="1463.1" cy="500.6" r="7.3"/>
<circle class="c7" cx="1421.7" cy="535.6" r="7.3"/>
<circle class="c7" cx="1380.0" cy="573.6" r="7.3"/>
<circle class="c7" cx="1409.9" cy="570.6" r="7.3"/>
<circle class="c6" cx="1520.8" cy="567.9" r="7.3"/>
<circle class="c6" cx="1532.3" cy="553.9" r="7.3"/>
<circle class="c6" cx="1538.4" cy="545.1" r="7.3"/>
<circle class="c3" cx="1315.4" cy="1288.3" r="7.3"/>
<circle class="c3" cx="1327.6" cy="1278.2" r="7.3"/>
<circle class="c3" cx="1339.2" cy="1277.5" r="7.3"/>
<circle class="c3" cx="1327.6" cy="1287.7" r="7.3"/>
<circle class="c3" cx="1339.2" cy="1286.3" r="7.3"/>
<circle class="c1" cx="1339.2" cy="1285.6" r="7.3"/>
<circle class="c3" cx="1333.1" cy="1297.1" r="7.3"/>
<circle class="c3" cx="1350.7" cy="1285.6" r="7.3"/>
<circle class="c3" cx="1350.7" cy="1297.8" r="7.3"/>
<circle class="c3" cx="1362.9" cy="1293.1" r="7.3"/>
<circle class="c3" cx="1362.9" cy="1294.7" r="7.3"/>
<circle class="c3" cx="1327.6" cy="1309.4" r="7.3"/>
<circle class="c3" cx="1345.0" cy="1310.7" r="7.3"/>
<circle class="c3" cx="1374.8" cy="1282.2" r="7.3"/>
<circle class="c3" cx="1386.0" cy="1289.7" r="7.3"/>
<circle class="c3" cx="1392.1" cy="1291.7" r="7.3"/>
<circle class="c3" cx="1397.9" cy="1272.1" r="7.3"/>
<circle class="c3" cx="1410.1" cy="1270.0" r="7.3"/>
<circle class="c3" cx="1410.1" cy="1284.0" r="7.3"/>
<circle class="c3" cx="1421.9" cy="1261.9" r="7.3"/>
<circle class="c3" cx="1421.9" cy="1275.4" r="7.3"/>
<circle class="c3" cx="1432.7" cy="1284.9" r="7.3"/>
<circle class="c3" cx="1438.8" cy="1273.4" r="7.3"/>
<circle class="c3" cx="1456.9" cy="1295.8" r="7.3"/>
<circle class="c3" cx="1473.7" cy="1288.7" r="7.3"/>
<circle class="c3" cx="1479.9" cy="1293.8" r="7.3"/>
<circle class="c3" cx="1362.9" cy="1249.0" r="7.3"/>
<circle class="c3" cx="1374.8" cy="1231.8" r="7.3"/>
<circle class="c3" cx="1374.8" cy="1212.8" r="7.3"/>
<circle class="c3" cx="1392.1" cy="1211.7" r="7.3"/>
<circle class="c3" cx="1410.1" cy="1207.0" r="7.3"/>
<circle class="c3" cx="1445.0" cy="1198.8" r="7.3"/>
<circle class="c1" cx="1315.4" cy="1301.9" r="7.3"/>
<circle class="c1" cx="1368.7" cy="1276.8" r="7.3"/>
<circle class="c1" cx="1397.9" cy="1264.6" r="7.3"/>
<circle class="c1" cx="1404.0" cy="1247.6" r="7.3"/>
<circle class="c1" cx="1421.9" cy="1247.6" r="7.3"/>
<circle class="c1" cx="1445.0" cy="1235.8" r="7.3"/>
<circle class="c1" cx="1469.0" cy="1209.9" r="7.3"/>
<circle class="c8" cx="1374.8" cy="1360.9" r="7.3"/>
<circle class="c8" cx="1368.7" cy="1372.4" r="7.3"/>
<circle class="c8" cx="1356.8" cy="1406.6" r="7.3"/>
<circle class="c2" cx="1362.9" cy="1384.9" r="7.3"/>
<circle class="c2" cx="1374.8" cy="1384.0" r="7.3"/>
<circle class="c2" cx="1350.7" cy="1404.7" r="7.3"/>
<circle class="c7" cx="1426.8" cy="392.6" r="7.3"/>
<circle class="c7" cx="1439.0" cy="400.1" r="7.3"/>
<circle class="c7" cx="1516.0" cy="378.4" r="7.3"/>
<circle class="c7" cx="1516.0" cy="402.1" r="7.3"/>
<circle class="c7" cx="1498.0" cy="425.9" r="7.3"/>
<circle class="c7" cx="1486.1" cy="448.0" r="7.3"/>
<circle class="c3" cx="1439.0" cy="438.7" r="7.3"/>
<circle class="c3" cx="1439.0" cy="712.6" r="7.3"/>
<circle class="c3" cx="1450.9" cy="608.1" r="7.3"/>
<circle class="c3" cx="1463.4" cy="605.4" r="7.3"/>
<circle class="c3" cx="1479.7" cy="603.4" r="7.3"/>
<circle class="c3" cx="1474.0" cy="631.9" r="7.3"/>
<circle class="c3" cx="1463.1" cy="652.9" r="7.3"/>
<circle class="c3" cx="1486.1" cy="680.0" r="7.3"/>
<circle class="c3" cx="1498.0" cy="696.3" r="7.3"/>
<circle class="c6" cx="1450.9" cy="673.9" r="7.3"/>
<circle class="c6" cx="1468.8" cy="683.8" r="7.3"/>
<circle class="c6" cx="1479.7" cy="685.4" r="7.3"/>
<circle class="c6" cx="1486.1" cy="667.8" r="7.3"/>
<circle class="c6" cx="1486.1" cy="670.5" r="7.3"/>
<circle class="c6" cx="1509.9" cy="662.8" r="7.3"/>
<circle class="c6" cx="1498.0" cy="699.7" r="7.3"/>
<circle class="c6" cx="1516.0" cy="721.0" r="7.3"/>
<circle class="c6" cx="1445.1" cy="760.0" r="7.3"/>
<circle class="c5" cx="1509.9" cy="745.8" r="7.3"/>
<circle class="c5" cx="1503.8" cy="752.9" r="7.3"/>
<circle class="c5" cx="1498.0" cy="775.9" r="7.3"/>
<circle class="c5" cx="1491.9" cy="788.8" r="7.3"/>
<circle class="c5" cx="1468.8" cy="790.6" r="7.3"/>
<circle class="c5" cx="1456.9" cy="795.7" r="7.3"/>
<circle class="c5" cx="1479.9" cy="798.0" r="7.3"/>
<circle class="c5" cx="1439.0" cy="809.8" r="7.3"/>
<circle class="c1" cx="1609.9" cy="633.9" r="7.3"/>
<circle class="c1" cx="1580.0" cy="671.9" r="7.3"/>
<circle class="c1" cx="1562.8" cy="708.9" r="7.3"/>
<circle class="c1" cx="1550.9" cy="754.6" r="7.3"/>
<circle class="c1" cx="1533.0" cy="794.0" r="7.3"/>
<circle class="c3" cx="1515.9" cy="817.0" r="7.3"/>
<circle class="c3" cx="1533.3" cy="817.0" r="7.3"/>
<circle class="c3" cx="1486.1" cy="988.8" r="7.3"/>
<circle class="c3" cx="1480.0" cy="1015.8" r="7.3"/>
<circle class="c3" cx="1479.9" cy="872.0" r="7.3"/>
<circle class="c1" cx="1491.7" cy="854.8" r="7.3"/>
<circle class="c3" cx="1498.0" cy="856.6" r="7.3"/>
<circle class="c3" cx="1521.1" cy="841.7" r="7.3"/>
<circle class="c3" cx="1527.0" cy="839.0" r="7.3"/>
<circle class="c1" cx="1516.1" cy="823.6" r="7.3"/>
<circle class="c3" cx="1557.0" cy="827.7" r="7.3"/>
<circle class="c3" cx="1517.0" cy="880.1" r="7.3"/>
<circle class="c3" cx="1509.8" cy="892.8" r="7.3"/>
<circle class="c3" cx="1498.0" cy="960.6" r="7.3"/>
<circle class="c1" cx="1557.0" cy="1069.1" r="7.3"/>
<circle class="c1" cx="1545.1" cy="1092.6" r="7.3"/>
<circle class="c1" cx="1527.0" cy="1105.9" r="7.3"/>
<circle class="c1" cx="1516.0" cy="1114.8" r="7.3"/>
<circle class="c1" cx="1497.6" cy="1145.3" r="7.3"/>
<circle class="c3" cx="1545.1" cy="1101.9" r="7.3"/>
<circle class="c3" cx="1516.0" cy="1125.8" r="7.3"/>
<circle class="c3" cx="1527.0" cy="1127.6" r="7.3"/>
<circle class="c3" cx="1527.0" cy="1134.0" r="7.3"/>
<circle class="c3" cx="1538.8" cy="1129.5" r="7.3"/>
<circle class="c3" cx="1545.1" cy="1133.1" r="7.3"/>
<circle class="c3" cx="1557.0" cy="1138.0" r="7.3"/>
<circle class="c3" cx="1563.0" cy="1124.8" r="7.3"/>
<circle class="c3" cx="1579.9" cy="1116.8" r="7.3"/>
<circle class="c3" cx="1579.9" cy="1137.6" r="7.3"/>
<circle class="c3" cx="1585.8" cy="1136.7" r="7.3"/>
<circle class="c4" cx="1497.6" cy="1155.7" r="7.3"/>
<circle class="c4" cx="1498.1" cy="1161.1" r="7.3"/>
<circle class="c4" cx="1520.7" cy="1144.8" r="7.3"/>
<circle class="c4" cx="1527.0" cy="1148.0" r="7.3"/>
<circle class="c4" cx="1520.7" cy="1153.9" r="7.3"/>
<circle class="c0" cx="235.0" cy="1345.9" r="7.3"/>
<circle class="c0" cx="335.0" cy="1350.9" r="7.3"/>
<circle class="c0" cx="428.9" cy="1354.7" r="7.3"/>
<circle class="c6" cx="469.9" cy="1359.9" r="7.3"/>
<circle class="c6" cx="493.6" cy="1272.9" r="7.3"/>
<circle class="c1" cx="487.9" cy="1291.9" r="7.3"/>
<circle class="c1" cx="446.8" cy="1288.9" r="7.3"/>
<circle class="c1" cx="441.0" cy="1265.9" r="7.3"/>
<circle class="c1" cx="387.8" cy="1261.8" r="7.3"/>
<circle class="c1" cx="340.8" cy="1237.0" r="7.3"/>
<circle class="c0" cx="228.9" cy="1497.7" r="7.3"/>
<circle class="c0" cx="235.0" cy="1510.9" r="7.3"/>
<circle class="c0" cx="228.9" cy="1541.7" r="7.3"/>
<circle class="c0" cx="228.9" cy="1565.1" r="7.3"/>
<circle class="c0" cx="241.0" cy="1566.8" r="7.3"/>
<circle class="c0" cx="252.9" cy="1553.9" r="7.3"/>
<circle class="c0" cx="258.7" cy="1533.6" r="7.3"/>
<circle class="c0" cx="258.7" cy="1573.9" r="7.3"/>
<circle class="c0" cx="269.8" cy="1567.8" r="7.3"/>
<circle class="c0" cx="269.8" cy="1444.8" r="7.3"/>
<circle class="c0" cx="276.0" cy="1466.9" r="7.3"/>
<circle class="c2" cx="276.0" cy="1487.9" r="7.3"/>
<circle class="c0" cx="288.2" cy="1492.0" r="7.3"/>
<circle class="c0" cx="281.8" cy="1530.2" r="7.3"/>
<circle class="c0" cx="294.0" cy="1535.0" r="7.3"/>
<circle class="c0" cx="294.0" cy="1562.8" r="7.3"/>
<circle class="c0" cx="305.9" cy="1434.9" r="7.3"/>
<circle class="c0" cx="305.9" cy="1455.9" r="7.3"/>
<circle class="c0" cx="311.9" cy="1527.8" r="7.3"/>
<circle class="c1" cx="317.0" cy="1525.9" r="7.3"/>
<circle class="c0" cx="322.7" cy="1566.8" r="7.3"/>
<circle class="c0" cx="335.0" cy="1470.5" r="7.3"/>
<circle class="c0" cx="340.8" cy="1487.5" r="7.3"/>
<circle class="c1" cx="335.0" cy="1521.7" r="7.3"/>
<circle class="c0" cx="346.9" cy="1535.0" r="7.3"/>
<circle class="c0" cx="346.9" cy="1566.8" r="7.3"/>
<circle class="c1" cx="359.0" cy="1519.6" r="7.3"/>
<circle class="c0" cx="359.0" cy="1532.0" r="7.3"/>
<circle class="c0" cx="359.0" cy="1554.6" r="7.3"/>
<circle class="c0" cx="370.2" cy="1568.6" r="7.3"/>
<circle class="c2" cx="370.2" cy="1566.8" r="7.3"/>
<circle class="c0" cx="381.9" cy="1470.5" r="7.3"/>
<circle class="c1" cx="381.9" cy="1517.6" r="7.3"/>
<circle class="c1" cx="387.8" cy="1557.7" r="7.3"/>
<circle class="c0" cx="394.0" cy="1553.9" r="7.3"/>
<circle class="c0" cx="394.0" cy="1571.6" r="7.3"/>
<circle class="c6" cx="394.0" cy="1425.8" r="7.3"/>
<circle class="c4" cx="394.0" cy="1539.7" r="7.3"/>
<circle class="c1" cx="399.8" cy="1578.8" r="7.3"/>
<circle class="c1" cx="405.9" cy="1514.3" r="7.3"/>
<circle class="c1" cx="405.9" cy="1557.7" r="7.3"/>
<circle class="c0" cx="410.9" cy="1535.6" r="7.3"/>
<circle class="c0" cx="422.8" cy="1515.3" r="7.3"/>
<circle class="c1" cx="428.9" cy="1512.8" r="7.3"/>
<circle class="c0" cx="422.8" cy="1572.9" r="7.3"/>
<circle class="c1" cx="422.8" cy="1579.7" r="7.3"/>
<circle class="c1" cx="441.2" cy="1555.7" r="7.3"/>
<circle class="c1" cx="446.8" cy="1517.7" r="7.3"/>
<circle class="c0" cx="446.8" cy="1573.6" r="7.3"/>
<circle class="c1" cx="457.7" cy="1509.6" r="7.3"/>
<circle class="c0" cx="464.2" cy="1510.5" r="7.3"/>
<circle class="c0" cx="476.0" cy="1573.6" r="7.3"/>
<circle class="c1" cx="487.9" cy="1481.8" r="7.3"/>
<circle class="c1" cx="487.9" cy="1507.8" r="7.3"/>
<circle class="c1" cx="487.9" cy="1524.1" r="7.3"/>
<circle class="c1" cx="434.6" cy="852.0" r="7.3"/>
<circle class="c1" cx="446.8" cy="861.7" r="7.3"/>
<circle class="c1" cx="481.9" cy="944.7" r="7.3"/>
<circle class="c1" cx="464.0" cy="974.7" r="7.3"/>
<circle class="c1" cx="592.9" cy="979.7" r="7.3"/>
<circle class="c1" cx="587.9" cy="990.3" r="7.3"/>
<circle class="c1" cx="639.6" cy="1003.9" r="7.3"/>
<circle class="c1" cx="569.8" cy="1023.1" r="7.3"/>
<circle class="c1" cx="582.0" cy="1032.8" r="7.3"/>
<circle class="c1" cx="557.8" cy="1043.0" r="7.3"/>
<circle class="c1" cx="575.9" cy="1047.1" r="7.3"/>
<circle class="c1" cx="563.9" cy="1062.2" r="7.3"/>
<circle class="c1" cx="545.8" cy="1081.9" r="7.3"/>
<circle class="c1" cx="622.7" cy="853.8" r="7.3"/>
<circle class="c1" cx="639.6" cy="864.0" r="7.3"/>
<circle class="c1" cx="658.0" cy="879.8" r="7.3"/>
<circle class="c1" cx="681.9" cy="883.9" r="7.3"/>
<circle class="c1" cx="498.8" cy="1165.7" r="7.3"/>
<circle class="c0" cx="375.9" cy="1171.8" r="7.3"/>
<circle class="c6" cx="617.0" cy="1124.8" r="7.3"/>
<circle class="c7" cx="634.4" cy="1110.1" r="7.3"/>
<circle class="c7" cx="645.3" cy="1118.0" r="7.3"/>
<circle class="c7" cx="657.7" cy="1113.1" r="7.3"/>
<circle class="c7" cx="663.8" cy="1121.0" r="7.3"/>
<circle class="c7" cx="675.8" cy="1134.1" r="7.3"/>
<circle class="c7" cx="681.5" cy="1087.1" r="7.3"/>
<circle class="c7" cx="692.8" cy="1082.5" r="7.3"/>
<circle class="c7" cx="674.7" cy="1035.1" r="7.3"/>
<circle class="c7" cx="681.5" cy="1035.8" r="7.3"/>
<circle class="c7" cx="692.8" cy="1031.0" r="7.3"/>
<circle class="c1" cx="645.3" cy="658.2" r="7.3"/>
<circle class="c1" cx="657.8" cy="659.0" r="7.3"/>
<circle class="c1" cx="669.7" cy="662.0" r="7.3"/>
<circle class="c1" cx="686.3" cy="666.6" r="7.3"/>
<circle class="c1" cx="698.5" cy="673.4" r="7.3"/>
<circle class="c1" cx="716.6" cy="647.6" r="7.3"/>
<circle class="c1" cx="733.7" cy="663.9" r="7.3"/>
<circle class="c1" cx="745.9" cy="655.7" r="7.3"/>
<circle class="c1" cx="763.6" cy="632.7" r="7.3"/>
<circle class="c1" cx="775.8" cy="630.0" r="7.3"/>
<circle class="c1" cx="792.6" cy="611.5" r="7.3"/>
<circle class="c1" cx="804.8" cy="606.9" r="7.3"/>
<circle class="c1" cx="821.6" cy="608.8" r="7.3"/>
<circle class="c1" cx="833.8" cy="613.7" r="7.3"/>
<circle class="c1" cx="851.7" cy="618.3" r="7.3"/>
<circle class="c1" cx="863.9" cy="627.8" r="7.3"/>
<circle class="c7" cx="927.7" cy="660.9" r="7.3"/>
<circle class="c7" cx="957.5" cy="665.8" r="7.3"/>
<circle class="c7" cx="986.5" cy="654.4" r="7.3"/>
<circle class="c7" cx="1021.8" cy="653.8" r="7.3"/>
<circle class="c7" cx="833.3" cy="688.0" r="7.3"/>
<circle class="c7" cx="846.0" cy="687.5" r="7.3"/>
<circle class="c7" cx="833.3" cy="698.9" r="7.3"/>
<circle class="c7" cx="839.8" cy="710.0" r="7.3"/>
<circle class="c7" cx="516.8" cy="741.7" r="7.3"/>
<circle class="c7" cx="522.7" cy="736.8" r="7.3"/>
<circle class="c7" cx="545.8" cy="731.4" r="7.3"/>
<circle class="c7" cx="539.8" cy="743.9" r="7.3"/>
<circle class="c7" cx="545.8" cy="745.8" r="7.3"/>
<circle class="c7" cx="545.8" cy="752.0" r="7.3"/>
<circle class="c7" cx="616.8" cy="745.8" r="7.3"/>
<circle class="c7" cx="669.7" cy="749.3" r="7.3"/>
<circle class="c7" cx="686.3" cy="756.4" r="7.3"/>
<circle class="c3" cx="1021.8" cy="920.7" r="7.3"/>
<circle class="c3" cx="1005.0" cy="935.1" r="7.3"/>
<circle class="c3" cx="992.8" cy="952.5" r="7.3"/>
<circle class="c3" cx="1009.6" cy="968.7" r="7.3"/>
<circle class="c3" cx="1021.8" cy="979.9" r="7.3"/>
<circle class="c1" cx="517.0" cy="1192.6" r="7.3"/>
<circle class="c1" cx="541.0" cy="1207.8" r="7.3"/>
<circle class="c1" cx="558.0" cy="1224.9" r="7.3"/>
<circle class="c1" cx="576.0" cy="1232.0" r="7.3"/>
<circle class="c1" cx="598.7" cy="1236.8" r="7.3"/>
<circle class="c1" cx="616.6" cy="1237.8" r="7.3"/>
<circle class="c1" cx="628.8" cy="1238.7" r="7.3"/>
<circle class="c1" cx="645.8" cy="1241.7" r="7.3"/>
<circle class="c1" cx="657.7" cy="1246.9" r="7.3"/>
<circle class="c1" cx="669.9" cy="1249.6" r="7.3"/>
<circle class="c1" cx="675.9" cy="1252.7" r="7.3"/>
<circle class="c1" cx="675.9" cy="1183.8" r="7.3"/>
<circle class="c1" cx="686.9" cy="1189.6" r="7.3"/>
<circle class="c1" cx="693.0" cy="1177.7" r="7.3"/>
<circle class="c1" cx="722.8" cy="1185.9" r="7.3"/>
<circle class="c1" cx="757.7" cy="1186.9" r="7.3"/>
<circle class="c1" cx="769.9" cy="1220.8" r="7.3"/>
<circle class="c1" cx="786.9" cy="1215.7" r="7.3"/>
<circle class="c1" cx="739.4" cy="1228.6" r="7.3"/>
<circle class="c1" cx="745.5" cy="1232.0" r="7.3"/>
<circle class="c1" cx="752.3" cy="1234.4" r="7.3"/>
<circle class="c1" cx="757.7" cy="1249.6" r="7.3"/>
<circle class="c1" cx="734.0" cy="1258.8" r="7.3"/>
<circle class="c1" cx="704.8" cy="1263.8" r="7.3"/>
<circle class="c1" cx="681.9" cy="1274.7" r="7.3"/>
<circle class="c1" cx="657.7" cy="1277.7" r="7.3"/>
<circle class="c1" cx="628.8" cy="1279.7" r="7.3"/>
<circle class="c1" cx="598.7" cy="1278.8" r="7.3"/>
<circle class="c1" cx="686.9" cy="1291.6" r="7.3"/>
<circle class="c1" cx="716.6" cy="1288.3" r="7.3"/>
<circle class="c1" cx="657.7" cy="1295.0" r="7.3"/>
<circle class="c1" cx="622.7" cy="1296.8" r="7.3"/>
<circle class="c1" cx="581.8" cy="1300.9" r="7.3"/>
<circle class="c1" cx="535.0" cy="1294.8" r="7.3"/>
<circle class="c6" cx="563.7" cy="1272.7" r="7.3"/>
<circle class="c6" cx="581.8" cy="1271.8" r="7.3"/>
<circle class="c6" cx="793.0" cy="1308.9" r="7.3"/>
<circle class="c6" cx="640.0" cy="1347.0" r="7.3"/>
<circle class="c6" cx="582.5" cy="1371.0" r="7.3"/>
<circle class="c8" cx="529.8" cy="1397.4" r="7.3"/>
<circle class="c2" cx="776.0" cy="1377.8" r="7.3"/>
<circle class="c2" cx="791.6" cy="1362.8" r="7.3"/>
<circle class="c1" cx="798.4" cy="1364.2" r="7.3"/>
<circle class="c1" cx="499.3" cy="1549.9" r="7.3"/>
<circle class="c1" cx="499.3" cy="1552.6" r="7.3"/>
<circle class="c0" cx="499.3" cy="1567.1" r="7.3"/>
<circle class="c6" cx="546.1" cy="1401.4" r="7.3"/>
<circle class="c6" cx="522.4" cy="1403.0" r="7.3"/>
<circle class="c6" cx="610.9" cy="1406.8" r="7.3"/>
<circle class="c6" cx="587.9" cy="1426.7" r="7.3"/>
<circle class="c1" cx="729.2" cy="1411.9" r="7.3"/>
<circle class="c1" cx="710.9" cy="1419.9" r="7.3"/>
<circle class="c1" cx="663.8" cy="1434.9" r="7.3"/>
<circle class="c1" cx="640.0" cy="1446.8" r="7.3"/>
<circle class="c1" cx="616.9" cy="1460.8" r="7.3"/>
<circle class="c1" cx="587.9" cy="1473.0" r="7.3"/>
<circle class="c1" cx="581.8" cy="1482.7" r="7.3"/>
<circle class="c1" cx="563.7" cy="1473.9" r="7.3"/>
<circle class="c1" cx="541.0" cy="1477.7" r="7.3"/>
<circle class="c1" cx="510.9" cy="1481.0" r="7.3"/>
<circle class="c6" cx="592.9" cy="1499.7" r="7.3"/>
<circle class="c6" cx="623.0" cy="1492.9" r="7.3"/>
<circle class="c6" cx="645.8" cy="1491.8" r="7.3"/>
<circle class="c6" cx="663.8" cy="1492.9" r="7.3"/>
<circle class="c8" cx="681.9" cy="1478.7" r="7.3"/>
<circle class="c8" cx="728.9" cy="1459.7" r="7.3"/>
<circle class="c6" cx="740.1" cy="1447.7" r="7.3"/>
<circle class="c6" cx="763.8" cy="1467.8" r="7.3"/>
<circle class="c2" cx="739.8" cy="1483.8" r="7.3"/>
<circle class="c0" cx="769.2" cy="1432.8" r="7.3"/>
<circle class="c6" cx="776.0" cy="1433.9" r="7.3"/>
<circle class="c2" cx="780.8" cy="1440.7" r="7.3"/>
<circle class="c4" cx="793.0" cy="1435.9" r="7.3"/>
<circle class="c2" cx="793.0" cy="1450.2" r="7.3"/>
<circle class="c0" cx="663.8" cy="1509.2" r="7.3"/>
<circle class="c1" cx="663.8" cy="1512.6" r="7.3"/>
<circle class="c1" cx="686.9" cy="1510.9" r="7.3"/>
<circle class="c6" cx="693.0" cy="1513.7" r="7.3"/>
<circle class="c8" cx="693.0" cy="1521.1" r="7.3"/>
<circle class="c1" cx="710.9" cy="1509.9" r="7.3"/>
<circle class="c8" cx="722.8" cy="1508.1" r="7.3"/>
<circle class="c1" cx="729.2" cy="1511.9" r="7.3"/>
<circle class="c1" cx="635.0" cy="1517.7" r="7.3"/>
<circle class="c1" cx="610.5" cy="1519.1" r="7.3"/>
<circle class="c1" cx="613.9" cy="1521.4" r="7.3"/>
<circle class="c1" cx="617.7" cy="1522.7" r="7.3"/>
<circle class="c1" cx="575.7" cy="1518.4" r="7.3"/>
<circle class="c4" cx="581.8" cy="1526.8" r="7.3"/>
<circle class="c1" cx="535.0" cy="1517.7" r="7.3"/>
<circle class="c1" cx="541.0" cy="1519.8" r="7.3"/>
<circle class="c4" cx="545.8" cy="1537.9" r="7.3"/>
<circle class="c8" cx="598.7" cy="1539.7" r="7.3"/>
<circle class="c1" cx="517.0" cy="1548.8" r="7.3"/>
<circle class="c1" cx="535.0" cy="1547.8" r="7.3"/>
<circle class="c1" cx="551.5" cy="1558.7" r="7.3"/>
<circle class="c1" cx="563.7" cy="1557.7" r="7.3"/>
<circle class="c1" cx="581.8" cy="1550.5" r="7.3"/>
<circle class="c1" cx="598.7" cy="1554.6" r="7.3"/>
<circle class="c1" cx="610.9" cy="1553.9" r="7.3"/>
<circle class="c1" cx="681.9" cy="1579.7" r="7.3"/>
<circle class="c1" cx="729.2" cy="1577.7" r="7.3"/>
<circle class="c1" cx="757.7" cy="1577.7" r="7.3"/>
<circle class="c1" cx="780.8" cy="1576.7" r="7.3"/>
<circle class="c7" cx="776.1" cy="734.8" r="7.3"/>
<circle class="c7" cx="822.0" cy="733.8" r="7.3"/>
<circle class="c7" cx="746.0" cy="741.0" r="7.3"/>
<circle class="c7" cx="752.0" cy="751.0" r="7.3"/>
<circle class="c7" cx="733.8" cy="757.6" r="7.3"/>
<circle class="c7" cx="698.8" cy="754.8" r="7.3"/>
<circle class="c7" cx="722.6" cy="763.9" r="7.3"/>
<circle class="c7" cx="728.7" cy="764.3" r="7.3"/>
<circle class="c7" cx="740.2" cy="764.3" r="7.3"/>
<circle class="c7" cx="746.0" cy="773.1" r="7.3"/>
<circle class="c7" cx="792.8" cy="769.8" r="7.3"/>
<circle class="c7" cx="816.8" cy="784.0" r="7.3"/>
<circle class="c7" cx="846.0" cy="788.5" r="7.3"/>
<circle class="c7" cx="851.8" cy="796.9" r="7.3"/>
<circle class="c7" cx="881.0" cy="787.0" r="7.3"/>
<circle class="c1" cx="704.9" cy="892.8" r="7.3"/>
<circle class="c1" cx="733.8" cy="889.8" r="7.3"/>
<circle class="c1" cx="770.0" cy="890.7" r="7.3"/>
<circle class="c1" cx="798.9" cy="893.9" r="7.3"/>
<circle class="c1" cx="822.0" cy="902.0" r="7.3"/>
<circle class="c1" cx="846.0" cy="905.8" r="7.3"/>
<circle class="c1" cx="846.0" cy="925.1" r="7.3"/>
<circle class="c1" cx="780.9" cy="923.0" r="7.3"/>
<circle class="c1" cx="728.9" cy="924.0" r="7.3"/>
<circle class="c1" cx="733.8" cy="935.9" r="7.3"/>
<circle class="c3" cx="928.0" cy="903.8" r="7.3"/>
<circle class="c3" cx="911.1" cy="909.9" r="7.3"/>
<circle class="c3" cx="915.8" cy="924.4" r="7.3"/>
<circle class="c3" cx="915.8" cy="926.4" r="7.3"/>
<circle class="c3" cx="864.0" cy="935.0" r="7.3"/>
<circle class="c3" cx="874.9" cy="933.9" r="7.3"/>
<circle class="c3" cx="887.1" cy="940.0" r="7.3"/>
<circle class="c3" cx="934.1" cy="935.9" r="7.3"/>
<circle class="c3" cx="928.0" cy="942.7" r="7.3"/>
<circle class="c3" cx="980.9" cy="940.7" r="7.3"/>
<circle class="c7" cx="698.1" cy="1030.0" r="7.3"/>
<circle class="c7" cx="702.9" cy="1032.1" r="7.3"/>
<circle class="c7" cx="707.0" cy="1034.1" r="7.3"/>
<circle class="c7" cx="710.3" cy="1037.5" r="7.3"/>
<circle class="c7" cx="705.6" cy="1035.4" r="7.3"/>
<circle class="c1" cx="723.2" cy="952.7" r="7.3"/>
<circle class="c1" cx="716.7" cy="959.8" r="7.3"/>
<circle class="c1" cx="734.1" cy="968.7" r="7.3"/>
<circle class="c1" cx="704.9" cy="1005.6" r="7.3"/>
<circle class="c1" cx="864.0" cy="969.7" r="7.3"/>
<circle class="c1" cx="928.0" cy="983.6" r="7.3"/>
<circle class="c1" cx="893.0" cy="991.6" r="7.3"/>
<circle class="c1" cx="881.0" cy="1001.8" r="7.3"/>
<circle class="c1" cx="898.9" cy="1015.8" r="7.3"/>
<circle class="c1" cx="915.8" cy="1030.0" r="7.3"/>
<circle class="c1" cx="928.0" cy="1046.7" r="7.3"/>
<circle class="c1" cx="945.9" cy="1064.3" r="7.3"/>
<circle class="c0" cx="969.0" cy="975.8" r="7.3"/>
<circle class="c0" cx="928.0" cy="1014.4" r="7.3"/>
<circle class="c0" cx="934.1" cy="1013.1" r="7.3"/>
<circle class="c7" cx="763.9" cy="954.1" r="7.3"/>
<circle class="c7" cx="828.1" cy="960.9" r="7.3"/>
<circle class="c7" cx="858.2" cy="960.9" r="7.3"/>
<circle class="c7" cx="864.3" cy="956.8" r="7.3"/>
<circle class="c7" cx="881.0" cy="955.2" r="7.3"/>
<circle class="c7" cx="846.0" cy="1028.7" r="7.3"/>
<circle class="c7" cx="868.4" cy="1030.0" r="7.3"/>
<circle class="c7" cx="879.9" cy="1031.4" r="7.3"/>
<circle class="c7" cx="887.3" cy="1036.8" r="7.3"/>
<circle class="c7" cx="816.8" cy="1036.8" r="7.3"/>
<circle class="c7" cx="787.0" cy="1046.7" r="7.3"/>
<circle class="c7" cx="757.8" cy="1058.8" r="7.3"/>
<circle class="c7" cx="733.8" cy="1066.6" r="7.3"/>
<circle class="c7" cx="711.0" cy="1072.7" r="7.3"/>
<circle class="c7" cx="898.9" cy="1060.9" r="7.3"/>
<circle class="c7" cx="969.0" cy="1076.5" r="7.3"/>
<circle class="c7" cx="893.0" cy="1093.8" r="7.3"/>
<circle class="c7" cx="951.8" cy="1091.7" r="7.3"/>
<circle class="c7" cx="974.8" cy="1092.7" r="7.3"/>
<circle class="c7" cx="915.8" cy="1129.0" r="7.3"/>
<circle class="c3" cx="887.3" cy="1040.9" r="7.3"/>
<circle class="c3" cx="864.0" cy="1050.0" r="7.3"/>
<circle class="c3" cx="834.0" cy="1059.6" r="7.3"/>
<circle class="c3" cx="828.1" cy="1066.9" r="7.3"/>
<circle class="c3" cx="921.9" cy="1030.7" r="7.3"/>
<circle class="c3" cx="963.0" cy="1027.3" r="7.3"/>
<circle class="c3" cx="969.4" cy="1024.6" r="7.3"/>
<circle class="c3" cx="974.8" cy="1016.7" r="7.3"/>
<circle class="c3" cx="963.0" cy="1063.9" r="7.3"/>
<circle class="c3" cx="963.0" cy="1070.7" r="7.3"/>
<circle class="c3" cx="963.0" cy="1078.2" r="7.3"/>
<circle class="c3" cx="940.0" cy="1075.5" r="7.3"/>
<circle class="c3" cx="945.9" cy="1079.5" r="7.3"/>
<circle class="c3" cx="945.9" cy="1085.6" r="7.3"/>
<circle class="c3" cx="951.8" cy="1097.2" r="7.3"/>
<circle class="c3" cx="940.0" cy="1099.9" r="7.3"/>
<circle class="c3" cx="921.9" cy="1092.4" r="7.3"/>
<circle class="c3" cx="905.0" cy="1105.7" r="7.3"/>
<circle class="c3" cx="864.0" cy="1091.7" r="7.3"/>
<circle class="c3" cx="869.0" cy="1098.5" r="7.3"/>
<circle class="c3" cx="869.0" cy="1106.0" r="7.3"/>
<circle class="c3" cx="887.1" cy="1113.4" r="7.3"/>
<circle class="c3" cx="881.0" cy="1120.9" r="7.3"/>
<circle class="c3" cx="881.0" cy="1125.0" r="7.3"/>
<circle class="c3" cx="881.0" cy="1128.4" r="7.3"/>
<circle class="c1" cx="704.9" cy="1167.7" r="7.3"/>
<circle class="c1" cx="770.0" cy="1168.4" r="7.3"/>
<circle class="c1" cx="780.9" cy="1160.9" r="7.3"/>
<circle class="c1" cx="787.0" cy="1167.0" r="7.3"/>
<circle class="c1" cx="711.0" cy="1142.6" r="7.3"/>
<circle class="c0" cx="940.0" cy="1131.1" r="7.3"/>
<circle class="c3" cx="893.1" cy="1145.8" r="7.3"/>
<circle class="c3" cx="927.9" cy="1155.8" r="7.3"/>
<circle class="c7" cx="934.3" cy="1154.9" r="7.3"/>
<circle class="c3" cx="887.0" cy="1169.8" r="7.3"/>
<circle class="c1" cx="810.8" cy="1167.8" r="7.3"/>
<circle class="c1" cx="822.0" cy="1171.8" r="7.3"/>
<circle class="c1" cx="834.4" cy="1169.6" r="7.3"/>
<circle class="c1" cx="852.0" cy="1178.6" r="7.3"/>
<circle class="c3" cx="828.0" cy="1182.0" r="7.3"/>
<circle class="c3" cx="857.9" cy="1187.9" r="7.3"/>
<circle class="c3" cx="869.2" cy="1182.9" r="7.3"/>
<circle class="c7" cx="805.4" cy="1186.1" r="7.3"/>
<circle class="c0" cx="910.8" cy="1185.2" r="7.3"/>
<circle class="c0" cx="940.0" cy="1198.9" r="7.3"/>
<circle class="c0" cx="934.0" cy="1216.8" r="7.3"/>
<circle class="c0" cx="992.6" cy="1206.9" r="7.3"/>
<circle class="c3" cx="974.5" cy="1152.6" r="7.3"/>
<circle class="c7" cx="979.9" cy="1153.1" r="7.3"/>
<circle class="c7" cx="968.6" cy="1156.7" r="7.3"/>
<circle class="c7" cx="945.6" cy="1169.8" r="7.3"/>
<circle class="c7" cx="962.7" cy="1169.8" r="7.3"/>
<circle class="c7" cx="957.8" cy="1178.4" r="7.3"/>
<circle class="c3" cx="993.5" cy="1156.2" r="7.3"/>
<circle class="c7" cx="993.5" cy="1157.6" r="7.3"/>
<circle class="c3" cx="969.1" cy="1188.8" r="7.3"/>
<circle class="c3" cx="962.7" cy="1198.7" r="7.3"/>
<circle class="c3" cx="962.7" cy="1205.0" r="7.3"/>
<circle class="c3" cx="962.7" cy="1224.5" r="7.3"/>
<circle class="c3" cx="984.4" cy="1185.6" r="7.3"/>
<circle class="c4" cx="990.3" cy="1185.6" r="7.3"/>
<circle class="c4" cx="995.3" cy="1185.2" r="7.3"/>
<circle class="c3" cx="911.0" cy="1210.0" r="7.3"/>
<circle class="c1" cx="880.9" cy="1208.7" r="7.3"/>
<circle class="c1" cx="817.2" cy="1204.6" r="7.3"/>
<circle class="c1" cx="846.1" cy="1203.7" r="7.3"/>
<circle class="c1" cx="805.4" cy="1215.0" r="7.3"/>
<circle class="c1" cx="839.8" cy="1216.3" r="7.3"/>
<circle class="c1" cx="828.0" cy="1227.6" r="7.3"/>
<circle class="c1" cx="817.2" cy="1243.9" r="7.3"/>
<circle class="c7" cx="818.5" cy="1216.8" r="7.3"/>
<circle class="c7" cx="826.2" cy="1214.5" r="7.3"/>
<circle class="c7" cx="840.2" cy="1219.1" r="7.3"/>
<circle class="c2" cx="863.7" cy="1231.3" r="7.3"/>
<circle class="c7" cx="863.7" cy="1235.8" r="7.3"/>
<circle class="c7" cx="857.9" cy="1241.2" r="7.3"/>
<circle class="c7" cx="846.1" cy="1234.0" r="7.3"/>
<circle class="c7" cx="880.9" cy="1240.8" r="7.3"/>
<circle class="c7" cx="899.0" cy="1234.9" r="7.3"/>
<circle class="c7" cx="916.2" cy="1235.8" r="7.3"/>
<circle class="c3" cx="916.2" cy="1231.3" r="7.3"/>
<circle class="c3" cx="922.1" cy="1243.0" r="7.3"/>
<circle class="c3" cx="934.0" cy="1228.1" r="7.3"/>
<circle class="c7" cx="934.0" cy="1253.9" r="7.3"/>
<circle class="c7" cx="951.9" cy="1246.6" r="7.3"/>
<circle class="c7" cx="969.1" cy="1242.6" r="7.3"/>
<circle class="c7" cx="986.7" cy="1225.8" r="7.3"/>
<circle class="c1" cx="992.6" cy="1251.2" r="7.3"/>
<circle class="c2" cx="927.9" cy="1258.4" r="7.3"/>
<circle class="c2" cx="946.0" cy="1254.8" r="7.3"/>
<circle class="c6" cx="828.0" cy="1264.7" r="7.3"/>
<circle class="c8" cx="815.8" cy="1269.2" r="7.3"/>
<circle class="c6" cx="816.7" cy="1273.8" r="7.3"/>
<circle class="c1" cx="810.8" cy="1273.8" r="7.3"/>
<circle class="c8" cx="881.0" cy="1275.6" r="7.3"/>
<circle class="c8" cx="899.0" cy="1269.7" r="7.3"/>
<circle class="c0" cx="946.1" cy="1275.6" r="7.3"/>
<circle class="c7" cx="986.7" cy="1278.3" r="7.3"/>
<circle class="c6" cx="810.8" cy="1288.7" r="7.3"/>
<circle class="c8" cx="857.9" cy="1299.9" r="7.3"/>
<circle class="c2" cx="869.1" cy="1299.9" r="7.3"/>
<circle class="c2" cx="881.0" cy="1297.7" r="7.3"/>
<circle class="c2" cx="911.0" cy="1306.8" r="7.3"/>
<circle class="c4" cx="933.8" cy="1297.7" r="7.3"/>
<circle class="c2" cx="940.0" cy="1322.7" r="7.3"/>
<circle class="c4" cx="952.3" cy="1325.9" r="7.3"/>
<circle class="c2" cx="822.1" cy="1336.8" r="7.3"/>
<circle class="c8" cx="839.8" cy="1333.9" r="7.3"/>
<circle class="c2" cx="804.7" cy="1345.8" r="7.3"/>
<circle class="c4" cx="910.7" cy="1343.7" r="7.3"/>
<circle class="c4" cx="922.2" cy="1343.7" r="7.3"/>
<circle class="c2" cx="922.2" cy="1349.8" r="7.3"/>
<circle class="c4" cx="946.1" cy="1349.8" r="7.3"/>
<circle class="c4" cx="933.8" cy="1362.8" r="7.3"/>
<circle class="c0" cx="933.8" cy="1387.1" r="7.3"/>
<circle class="c4" cx="804.7" cy="1388.5" r="7.3"/>
<circle class="c4" cx="800.7" cy="1401.8" r="7.3"/>
<circle class="c4" cx="811.0" cy="1413.0" r="7.3"/>
<circle class="c0" cx="904.9" cy="1403.3" r="7.3"/>
<circle class="c8" cx="869.1" cy="1423.9" r="7.3"/>
<circle class="c6" cx="904.9" cy="1426.9" r="7.3"/>
<circle class="c4" cx="845.9" cy="1436.2" r="7.3"/>
<circle class="c4" cx="845.9" cy="1439.4" r="7.3"/>
<circle class="c3" cx="845.9" cy="1442.3" r="7.3"/>
<circle class="c4" cx="845.9" cy="1444.5" r="7.3"/>
<circle class="c4" cx="811.0" cy="1445.6" r="7.3"/>
<circle class="c6" cx="798.9" cy="1448.1" r="7.3"/>
<circle class="c2" cx="810.8" cy="1455.7" r="7.3"/>
<circle class="c4" cx="804.0" cy="1456.8" r="7.3"/>
<circle class="c2" cx="828.1" cy="1459.9" r="7.3"/>
<circle class="c0" cx="874.9" cy="1434.7" r="7.3"/>
<circle class="c6" cx="880.7" cy="1434.4" r="7.3"/>
<circle class="c0" cx="887.2" cy="1436.5" r="7.3"/>
<circle class="c4" cx="886.8" cy="1439.1" r="7.3"/>
<circle class="c6" cx="868.7" cy="1442.0" r="7.3"/>
<circle class="c6" cx="887.2" cy="1447.0" r="7.3"/>
<circle class="c2" cx="874.9" cy="1451.0" r="7.3"/>
<circle class="c4" cx="874.5" cy="1446.3" r="7.3"/>
<circle class="c2" cx="899.1" cy="1450.6" r="7.3"/>
<circle class="c4" cx="904.9" cy="1444.8" r="7.3"/>
<circle class="c4" cx="927.3" cy="1442.7" r="7.3"/>
<circle class="c4" cx="934.2" cy="1438.7" r="7.3"/>
<circle class="c4" cx="951.9" cy="1440.5" r="7.3"/>
<circle class="c4" cx="946.1" cy="1451.7" r="7.3"/>
<circle class="c2" cx="911.0" cy="1464.7" r="7.3"/>
<circle class="c6" cx="911.0" cy="1464.7" r="7.3"/>
<circle class="c4" cx="904.9" cy="1473.8" r="7.3"/>
<circle class="c2" cx="914.6" cy="1478.5" r="7.3"/>
<circle class="c3" cx="920.1" cy="1477.8" r="7.3"/>
<circle class="c4" cx="922.2" cy="1475.2" r="7.3"/>
<circle class="c2" cx="933.8" cy="1465.5" r="7.3"/>
<circle class="c2" cx="938.9" cy="1477.8" r="7.3"/>
<circle class="c2" cx="946.1" cy="1475.9" r="7.3"/>
<circle class="c2" cx="951.9" cy="1482.1" r="7.3"/>
<circle class="c2" cx="911.0" cy="1489.3" r="7.3"/>
<circle class="c1" cx="958.0" cy="1460.8" r="7.3"/>
<circle class="c8" cx="946.1" cy="1495.8" r="7.3"/>
<circle class="c2" cx="851.7" cy="1479.6" r="7.3"/>
<circle class="c1" cx="857.9" cy="1481.7" r="7.3"/>
<circle class="c1" cx="857.9" cy="1487.5" r="7.3"/>
<circle class="c1" cx="874.9" cy="1478.5" r="7.3"/>
<circle class="c2" cx="845.9" cy="1494.8" r="7.3"/>
<circle class="c2" cx="881.0" cy="1490.4" r="7.3"/>
<circle class="c1" cx="886.8" cy="1491.1" r="7.3"/>
<circle class="c2" cx="893.3" cy="1490.8" r="7.3"/>
<circle class="c0" cx="874.9" cy="1499.8" r="7.3"/>
<circle class="c0" cx="881.0" cy="1500.9" r="7.3"/>
<circle class="c0" cx="863.7" cy="1507.8" r="7.3"/>
<circle class="c0" cx="874.9" cy="1522.0" r="7.3"/>
<circle class="c1" cx="805.1" cy="1575.5" r="7.3"/>
<circle class="c1" cx="827.9" cy="1574.9" r="7.3"/>
<circle class="c1" cx="845.9" cy="1574.9" r="7.3"/>
<circle class="c1" cx="863.9" cy="1574.9" r="7.3"/>
<circle class="c1" cx="881.0" cy="1570.9" r="7.3"/>
<circle class="c1" cx="899.1" cy="1568.7" r="7.3"/>
<circle class="c8" cx="980.8" cy="1547.7" r="7.3"/>
<circle class="c8" cx="998.9" cy="1545.7" r="7.3"/>
<circle class="c8" cx="1015.8" cy="1542.7" r="7.3"/>
<circle class="c8" cx="1033.9" cy="1539.3" r="7.3"/>
<circle class="c8" cx="1045.9" cy="1536.2" r="7.3"/>
<circle class="c8" cx="1062.6" cy="1532.5" r="7.3"/>
<circle class="c8" cx="1074.9" cy="1530.1" r="7.3"/>
<circle class="c8" cx="1087.2" cy="1526.8" r="7.3"/>
<circle class="c8" cx="1103.8" cy="1522.9" r="7.3"/>
<circle class="c8" cx="1116.8" cy="1520.3" r="7.3"/>
<circle class="c2" cx="962.9" cy="1299.9" r="7.3"/>
<circle class="c2" cx="974.5" cy="1301.0" r="7.3"/>
<circle class="c2" cx="979.5" cy="1303.5" r="7.3"/>
<circle class="c2" cx="983.9" cy="1303.9" r="7.3"/>
<circle class="c2" cx="987.8" cy="1304.2" r="7.3"/>
<circle class="c7" cx="981.0" cy="1289.4" r="7.3"/>
<circle class="c7" cx="985.0" cy="1290.5" r="7.3"/>
<circle class="c7" cx="998.3" cy="1294.5" r="7.3"/>
<circle class="c7" cx="1003.4" cy="1297.0" r="7.3"/>
<circle class="c7" cx="1022.2" cy="1293.0" r="7.3"/>
<circle class="c7" cx="1028.0" cy="1303.9" r="7.3"/>
<circle class="c7" cx="1040.3" cy="1298.8" r="7.3"/>
<circle class="c2" cx="992.9" cy="1282.2" r="7.3"/>
<circle class="c2" cx="991.1" cy="1284.7" r="7.3"/>
<circle class="c4" cx="1009.9" cy="1283.6" r="7.3"/>
<circle class="c4" cx="1009.9" cy="1289.4" r="7.3"/>
<circle class="c7" cx="1009.9" cy="1289.8" r="7.3"/>
<circle class="c4" cx="1004.8" cy="1301.7" r="7.3"/>
<circle class="c4" cx="1046.1" cy="1293.0" r="7.3"/>
<circle class="c4" cx="1040.3" cy="1282.2" r="7.3"/>
<circle class="c4" cx="1039.6" cy="1283.3" r="7.3"/>
<circle class="c7" cx="1079.3" cy="1281.4" r="7.3"/>
<circle class="c7" cx="1093.1" cy="1282.9" r="7.3"/>
<circle class="c4" cx="1103.9" cy="1291.9" r="7.3"/>
<circle class="c1" cx="1086.9" cy="1297.0" r="7.3"/>
<circle class="c4" cx="1093.1" cy="1305.3" r="7.3"/>
<circle class="c4" cx="1075.0" cy="1308.6" r="7.3"/>
<circle class="c1" cx="1075.7" cy="1314.0" r="7.3"/>
<circle class="c0" cx="1056.9" cy="1317.6" r="7.3"/>
<circle class="c0" cx="1068.5" cy="1318.0" r="7.3"/>
<circle class="c0" cx="1046.1" cy="1328.8" r="7.3"/>
<circle class="c0" cx="1039.9" cy="1342.9" r="7.3"/>
<circle class="c0" cx="1004.8" cy="1346.9" r="7.3"/>
<circle class="c0" cx="1046.1" cy="1389.9" r="7.3"/>
<circle class="c4" cx="1062.7" cy="1329.9" r="7.3"/>
<circle class="c1" cx="1062.7" cy="1336.1" r="7.3"/>
<circle class="c1" cx="1051.9" cy="1350.9" r="7.3"/>
<circle class="c1" cx="1028.0" cy="1363.9" r="7.3"/>
<circle class="c1" cx="1040.3" cy="1369.0" r="7.3"/>
<circle class="c1" cx="1021.8" cy="1374.0" r="7.3"/>
<circle class="c1" cx="1009.9" cy="1387.8" r="7.3"/>
<circle class="c2" cx="1016.1" cy="1392.5" r="7.3"/>
<circle class="c1" cx="999.1" cy="1398.6" r="7.3"/>
<circle class="c4" cx="975.2" cy="1326.7" r="7.3"/>
<circle class="c4" cx="962.9" cy="1344.0" r="7.3"/>
<circle class="c1" cx="987.1" cy="1339.7" r="7.3"/>
<circle class="c0" cx="981.0" cy="1356.5" r="7.3"/>
<circle class="c1" cx="981.0" cy="1356.5" r="7.3"/>
<circle class="c0" cx="987.1" cy="1351.2" r="7.3"/>
<circle class="c1" cx="987.1" cy="1351.2" r="7.3"/>
<circle class="c4" cx="994.0" cy="1354.1" r="7.3"/>
<circle class="c0" cx="962.7" cy="1361.0" r="7.3"/>
<circle class="c0" cx="962.7" cy="1369.0" r="7.3"/>
<circle class="c5" cx="1098.9" cy="1348.7" r="7.3"/>
<circle class="c5" cx="1098.9" cy="1353.1" r="7.3"/>
<circle class="c5" cx="1098.9" cy="1358.1" r="7.3"/>
<circle class="c5" cx="1098.9" cy="1361.7" r="7.3"/>
<circle class="c5" cx="1103.9" cy="1371.1" r="7.3"/>
<circle class="c5" cx="1103.9" cy="1374.8" r="7.3"/>
<circle class="c5" cx="1110.1" cy="1384.2" r="7.3"/>
<circle class="c5" cx="1111.9" cy="1388.5" r="7.3"/>
<circle class="c5" cx="1115.5" cy="1392.8" r="7.3"/>
<circle class="c5" cx="1118.4" cy="1397.2" r="7.3"/>
<circle class="c4" cx="1115.5" cy="1327.7" r="7.3"/>
<circle class="c4" cx="1098.9" cy="1386.3" r="7.3"/>
<circle class="c5" cx="1062.7" cy="1399.3" r="7.3"/>
<circle class="c4" cx="1075.0" cy="1398.6" r="7.3"/>
<circle class="c5" cx="1087.3" cy="1399.3" r="7.3"/>
<circle class="c0" cx="1103.9" cy="1402.2" r="7.3"/>
<circle class="c4" cx="1103.9" cy="1402.2" r="7.3"/>
<circle class="c5" cx="1111.9" cy="1403.0" r="7.3"/>
<circle class="c5" cx="1116.2" cy="1408.8" r="7.3"/>
<circle class="c1" cx="962.9" cy="1415.9" r="7.3"/>
<circle class="c1" cx="974.8" cy="1410.8" r="7.3"/>
<circle class="c1" cx="987.1" cy="1406.5" r="7.3"/>
<circle class="c0" cx="999.1" cy="1418.1" r="7.3"/>
<circle class="c2" cx="999.1" cy="1418.4" r="7.3"/>
<circle class="c0" cx="1010.3" cy="1418.7" r="7.3"/>
<circle class="c4" cx="1009.9" cy="1426.4" r="7.3"/>
<circle class="c0" cx="1022.2" cy="1413.4" r="7.3"/>
<circle class="c4" cx="1022.2" cy="1414.1" r="7.3"/>
<circle class="c4" cx="993.3" cy="1425.7" r="7.3"/>
<circle class="c4" cx="1027.3" cy="1427.1" r="7.3"/>
<circle class="c0" cx="1039.9" cy="1425.7" r="7.3"/>
<circle class="c0" cx="1056.6" cy="1416.8" r="7.3"/>
<circle class="c0" cx="1057.3" cy="1417.7" r="7.3"/>
<circle class="c4" cx="1051.5" cy="1408.7" r="7.3"/>
<circle class="c0" cx="1068.9" cy="1407.2" r="7.3"/>
<circle class="c4" cx="974.8" cy="1435.8" r="7.3"/>
<circle class="c4" cx="981.0" cy="1438.7" r="7.3"/>
<circle class="c4" cx="1021.8" cy="1446.9" r="7.3"/>
<circle class="c4" cx="1046.1" cy="1436.9" r="7.3"/>
<circle class="c4" cx="1056.9" cy="1442.7" r="7.3"/>
<circle class="c4" cx="1062.7" cy="1432.5" r="7.3"/>
<circle class="c4" cx="1068.5" cy="1433.3" r="7.3"/>
<circle class="c4" cx="1068.9" cy="1438.3" r="7.3"/>
<circle class="c1" cx="1103.9" cy="1421.0" r="7.3"/>
<circle class="c1" cx="1103.9" cy="1425.7" r="7.3"/>
<circle class="c2" cx="1114.1" cy="1432.2" r="7.3"/>
<circle class="c8" cx="1110.1" cy="1442.7" r="7.3"/>
<circle class="c1" cx="1086.6" cy="1449.9" r="7.3"/>
<circle class="c1" cx="1098.9" cy="1452.4" r="7.3"/>
<circle class="c8" cx="1098.9" cy="1452.4" r="7.3"/>
<circle class="c8" cx="1103.9" cy="1461.5" r="7.3"/>
<circle class="c8" cx="1086.9" cy="1462.9" r="7.3"/>
<circle class="c8" cx="1075.0" cy="1469.8" r="7.3"/>
<circle class="c8" cx="1063.1" cy="1474.9" r="7.3"/>
<circle class="c8" cx="1051.9" cy="1480.7" r="7.3"/>
<circle class="c8" cx="1038.8" cy="1474.5" r="7.3"/>
<circle class="c8" cx="1021.8" cy="1479.9" r="7.3"/>
<circle class="c8" cx="992.9" cy="1475.9" r="7.3"/>
<circle class="c8" cx="974.8" cy="1472.3" r="7.3"/>
<circle class="c8" cx="992.9" cy="1493.3" r="7.3"/>
<circle class="c1" cx="1086.9" cy="1475.2" r="7.3"/>
<circle class="c1" cx="1114.8" cy="1468.0" r="7.3"/>
<circle class="c1" cx="1034.1" cy="1452.8" r="7.3"/>
<circle class="c1" cx="1063.1" cy="1449.9" r="7.3"/>
<circle class="c2" cx="1051.5" cy="1449.9" r="7.3"/>
<circle class="c2" cx="1049.0" cy="1457.9" r="7.3"/>
<circle class="c2" cx="1045.4" cy="1465.1" r="7.3"/>
<circle class="c2" cx="1046.1" cy="1466.5" r="7.3"/>
<circle class="c8" cx="1051.9" cy="1465.5" r="7.3"/>
<circle class="c1" cx="1004.8" cy="1457.9" r="7.3"/>
<circle class="c1" cx="981.0" cy="1461.8" r="7.3"/>
<circle class="c2" cx="961.4" cy="1468.0" r="7.3"/>
<circle class="c2" cx="968.7" cy="1473.1" r="7.3"/>
<circle class="c2" cx="986.8" cy="1473.1" r="7.3"/>
<circle class="c2" cx="984.6" cy="1475.9" r="7.3"/>
<circle class="c2" cx="999.1" cy="1472.3" r="7.3"/>
<circle class="c2" cx="1009.9" cy="1473.4" r="7.3"/>
<circle class="c8" cx="1009.9" cy="1473.1" r="7.3"/>
<circle class="c2" cx="1022.2" cy="1472.7" r="7.3"/>
<circle class="c1" cx="986.8" cy="1503.1" r="7.3"/>
<circle class="c1" cx="992.9" cy="1504.2" r="7.3"/>
<circle class="c2" cx="1051.9" cy="1498.7" r="7.3"/>
<circle class="c0" cx="1045.7" cy="1511.8" r="7.3"/>
<circle class="c4" cx="1103.9" cy="1510.7" r="7.3"/>
<circle class="c0" cx="1116.2" cy="1507.8" r="7.3"/>
<circle class="c3" cx="1039.9" cy="915.0" r="7.3"/>
<circle class="c3" cx="1039.9" cy="919.1" r="7.3"/>
<circle class="c3" cx="1062.8" cy="907.8" r="7.3"/>
<circle class="c3" cx="1075.0" cy="913.8" r="7.3"/>
<circle class="c3" cx="1103.9" cy="899.2" r="7.3"/>
<circle class="c3" cx="1115.9" cy="868.4" r="7.3"/>
<circle class="c3" cx="1115.9" cy="871.1" r="7.3"/>
<circle class="c3" cx="1115.9" cy="878.8" r="7.3"/>
<circle class="c3" cx="1145.5" cy="863.9" r="7.3"/>
<circle class="c3" cx="1157.3" cy="864.8" r="7.3"/>
<circle class="c1" cx="1103.9" cy="891.9" r="7.3"/>
<circle class="c1" cx="1099.0" cy="917.9" r="7.3"/>
<circle class="c1" cx="1086.9" cy="957.0" r="7.3"/>
<circle class="c4" cx="1109.8" cy="979.6" r="7.3"/>
<circle class="c3" cx="1150.5" cy="980.5" r="7.3"/>
<circle class="c3" cx="1163.1" cy="976.9" r="7.3"/>
<circle class="c3" cx="1021.6" cy="1008.8" r="7.3"/>
<circle class="c3" cx="1033.9" cy="1015.7" r="7.3"/>
<circle class="c3" cx="1045.6" cy="1022.0" r="7.3"/>
<circle class="c3" cx="1056.9" cy="1022.5" r="7.3"/>
<circle class="c4" cx="1068.7" cy="1022.5" r="7.3"/>
<circle class="c4" cx="1080.4" cy="1027.9" r="7.3"/>
<circle class="c3" cx="1087.2" cy="1024.8" r="7.3"/>
<circle class="c3" cx="1099.0" cy="1029.3" r="7.3"/>
<circle class="c3" cx="1127.9" cy="1004.0" r="7.3"/>
<circle class="c3" cx="1139.6" cy="1022.5" r="7.3"/>
<circle class="c3" cx="1139.6" cy="1025.2" r="7.3"/>
<circle class="c3" cx="1151.4" cy="1027.0" r="7.3"/>
<circle class="c3" cx="1174.9" cy="1032.0" r="7.3"/>
<circle class="c3" cx="1180.8" cy="1037.9" r="7.3"/>
<circle class="c4" cx="1085.8" cy="1038.8" r="7.3"/>
<circle class="c3" cx="1092.2" cy="1038.3" r="7.3"/>
<circle class="c3" cx="1098.5" cy="1042.4" r="7.3"/>
<circle class="c3" cx="1104.8" cy="1036.1" r="7.3"/>
<circle class="c3" cx="1110.7" cy="1034.7" r="7.3"/>
<circle class="c3" cx="1110.3" cy="1041.5" r="7.3"/>
<circle class="c3" cx="1099.0" cy="1049.6" r="7.3"/>
<circle class="c3" cx="1099.0" cy="1055.9" r="7.3"/>
<circle class="c1" cx="1122.0" cy="1032.0" r="7.3"/>
<circle class="c3" cx="1127.9" cy="1042.8" r="7.3"/>
<circle class="c3" cx="994.1" cy="1042.8" r="7.3"/>
<circle class="c3" cx="1028.0" cy="1048.7" r="7.3"/>
<circle class="c3" cx="1039.7" cy="1043.3" r="7.3"/>
<circle class="c3" cx="1039.7" cy="1048.7" r="7.3"/>
<circle class="c3" cx="1056.9" cy="1043.3" r="7.3"/>
<circle class="c3" cx="1056.9" cy="1047.4" r="7.3"/>
<circle class="c4" cx="1056.9" cy="1059.6" r="7.3"/>
<circle class="c1" cx="1004.9" cy="1056.9" r="7.3"/>
<circle class="c3" cx="999.0" cy="1066.8" r="7.3"/>
<circle class="c3" cx="1004.9" cy="1065.4" r="7.3"/>
<circle class="c7" cx="1075.0" cy="1057.8" r="7.3"/>
<circle class="c7" cx="1062.8" cy="1064.5" r="7.3"/>
<circle class="c7" cx="1039.7" cy="1067.7" r="7.3"/>
<circle class="c7" cx="1046.1" cy="1069.5" r="7.3"/>
<circle class="c7" cx="1021.6" cy="1081.7" r="7.3"/>
<circle class="c7" cx="1009.9" cy="1095.7" r="7.3"/>
<circle class="c7" cx="1092.2" cy="1058.7" r="7.3"/>
<circle class="c7" cx="1114.8" cy="1056.9" r="7.3"/>
<circle class="c7" cx="1122.0" cy="1052.3" r="7.3"/>
<circle class="c7" cx="1123.4" cy="1060.5" r="7.3"/>
<circle class="c7" cx="1120.2" cy="1055.9" r="7.3"/>
<circle class="c3" cx="1109.8" cy="1063.6" r="7.3"/>
<circle class="c3" cx="1068.7" cy="1080.8" r="7.3"/>
<circle class="c3" cx="1068.7" cy="1092.1" r="7.3"/>
<circle class="c4" cx="1046.1" cy="1080.8" r="7.3"/>
<circle class="c3" cx="1016.2" cy="1100.7" r="7.3"/>
<circle class="c3" cx="1162.7" cy="1053.2" r="7.3"/>
<circle class="c3" cx="1169.0" cy="1065.0" r="7.3"/>
<circle class="c4" cx="1085.8" cy="1098.4" r="7.3"/>
<circle class="c3" cx="1115.7" cy="1096.6" r="7.3"/>
<circle class="c3" cx="1103.9" cy="1106.6" r="7.3"/>
<circle class="c3" cx="1110.3" cy="1106.6" r="7.3"/>
<circle class="c1" cx="1045.6" cy="1112.9" r="7.3"/>
<circle class="c4" cx="1075.0" cy="1115.6" r="7.3"/>
<circle class="c1" cx="1030.7" cy="1122.0" r="7.3"/>
<circle class="c3" cx="1028.0" cy="1117.4" r="7.3"/>
<circle class="c3" cx="1075.0" cy="1125.6" r="7.3"/>
<circle class="c3" cx="1186.2" cy="1070.4" r="7.3"/>
<circle class="c3" cx="1174.9" cy="1088.5" r="7.3"/>
<circle class="c3" cx="1146.4" cy="1089.4" r="7.3"/>
<circle class="c3" cx="1133.3" cy="1094.4" r="7.3"/>
<circle class="c3" cx="1156.8" cy="1099.3" r="7.3"/>
<circle class="c3" cx="1174.9" cy="1111.1" r="7.3"/>
<circle class="c3" cx="1146.4" cy="1117.4" r="7.3"/>
<circle class="c3" cx="1150.0" cy="1126.5" r="7.3"/>
<circle class="c3" cx="1092.6" cy="1119.7" r="7.3"/>
<circle class="c8" cx="1186.2" cy="1082.2" r="7.3"/>
<circle class="c7" cx="1186.2" cy="1094.8" r="7.3"/>
<circle class="c8" cx="1168.6" cy="1116.5" r="7.3"/>
<circle class="c7" cx="1174.9" cy="1121.0" r="7.3"/>
<circle class="c7" cx="1109.8" cy="1119.2" r="7.3"/>
<circle class="c7" cx="1109.8" cy="1123.8" r="7.3"/>
<circle class="c3" cx="1192.5" cy="1092.9" r="7.3"/>
</g>
<polygon points="229.0,1511.2 246.3,1502.9 263.5,1494.6 280.8,1486.3 298.1,1478.0 315.3,1469.7 332.6,1461.3 349.8,1453.0 367.1,1444.7 384.4,1436.4 401.6,1428.0 418.9,1419.7 436.2,1411.4 453.4,1403.0 470.7,1394.7 488.0,1386.4 505.2,1378.0 522.5,1369.7 539.7,1361.3 557.0,1352.9 574.3,1344.6 591.5,1336.2 608.8,1327.8 626.1,1319.4 643.3,1311.0 660.6,1302.6 677.9,1294.2 695.1,1285.8 712.4,1277.4 729.6,1268.9 746.9,1260.5 764.2,1252.0 781.4,1243.5 798.7,1235.0 816.0,1226.5 833.2,1218.0 850.5,1209.4 867.8,1200.8 885.0,1192.2 902.3,1183.5 919.5,1174.8 936.8,1166.1 954.1,1157.3 971.3,1148.5 988.6,1139.7 1005.9,1130.8 1023.1,1121.8 1040.4,1112.8 1057.7,1103.8 1074.9,1094.7 1092.2,1085.5 1109.5,1076.3 1126.7,1067.0 1144.0,1057.7 1161.2,1048.4 1178.5,1039.0 1195.8,1029.6 1213.0,1020.1 1230.3,1010.6 1247.6,1001.1 1264.8,991.5 1282.1,981.9 1299.4,972.3 1316.6,962.7 1333.9,953.1 1351.1,943.4 1368.4,933.7 1385.7,924.0 1402.9,914.3 1420.2,904.6 1437.5,894.9 1454.7,885.2 1472.0,875.4 1489.3,865.7 1506.5,855.9 1523.8,846.2 1541.0,836.4 1558.3,826.6 1575.6,816.9 1592.8,807.1 1610.1,797.3 1610.1,854.1 1592.8,862.5 1575.6,870.8 1558.3,879.2 1541.0,887.5 1523.8,895.9 1506.5,904.3 1489.3,912.7 1472.0,921.1 1454.7,929.5 1437.5,937.9 1420.2,946.3 1402.9,954.7 1385.7,963.1 1368.4,971.6 1351.1,980.1 1333.9,988.5 1316.6,997.0 1299.4,1005.5 1282.1,1014.1 1264.8,1022.6 1247.6,1031.2 1230.3,1039.8 1213.0,1048.5 1195.8,1057.1 1178.5,1065.8 1161.2,1074.6 1144.0,1083.4 1126.7,1092.2 1109.5,1101.1 1092.2,1110.0 1074.9,1119.0 1057.7,1128.0 1040.4,1137.1 1023.1,1146.2 1005.9,1155.4 988.6,1164.7 971.3,1173.9 954.1,1183.3 936.8,1192.7 919.5,1202.1 902.3,1211.5 885.0,1221.0 867.8,1230.5 850.5,1240.1 833.2,1249.6 816.0,1259.2 798.7,1268.8 781.4,1278.5 764.2,1288.1 746.9,1297.8 729.6,1307.5 712.4,1317.2 695.1,1326.9 677.9,1336.6 660.6,1346.3 643.3,1356.1 626.1,1365.8 608.8,1375.6 591.5,1385.3 574.3,1395.1 557.0,1404.8 539.7,1414.6 522.5,1424.4 505.2,1434.2 488.0,1444.0 470.7,1453.8 453.4,1463.6 436.2,1473.4 418.9,1483.2 401.6,1493.0 384.4,1502.8 367.1,1512.6 349.8,1522.4 332.6,1532.2 315.3,1542.1 298.1,1551.9 280.8,1561.7 263.5,1571.5 246.3,1581.4 229.0,1591.2" fill="#999999" fill-opacity="0.4"/>
<line x1="229.0" y1="1551.2" x2="1610.1" y2="825.7" stroke="#000" stroke-width="7.0"/>
<g stroke="#000" stroke-width="4.2" fill="none">
<line x1="160.2" y1="19.5" x2="160.2" y2="1668.4"/>
<line x1="158.1" y1="1666.3" x2="1680.6" y2="1666.3"/>
<line x1="222.9" y1="1666.3" x2="222.9" y2="1677.8"/>
<line x1="516.9" y1="1666.3" x2="516.9" y2="1677.8"/>
<line x1="810.9" y1="1666.3" x2="810.9" y2="1677.8"/>
<line x1="1104.9" y1="1666.3" x2="1104.9" y2="1677.8"/>
<line x1="1398.9" y1="1666.3" x2="1398.9" y2="1677.8"/>
<line x1="148.8" y1="1591.5" x2="160.2" y2="1591.5"/>
<line x1="148.8" y1="1163.0" x2="160.2" y2="1163.0"/>
<line x1="148.8" y1="734.4" x2="160.2" y2="734.4"/>
<line x1="148.8" y1="305.9" x2="160.2" y2="305.9"/>
</g>
<text class="t" x="222.9" y="1716" text-anchor="middle">60</text>
<text class="t" x="516.9" y="1716" text-anchor="middle">65</text>
<text class="t" x="810.9" y="1716" text-anchor="middle">70</text>
<text class="t" x="1104.9" y="1716" text-anchor="middle">75</text>
<text class="t" x="1398.9" y="1716" text-anchor="middle">80</text>
<text class="t" x="140" y="1604.6" text-anchor="end">0</text>
<text class="t" x="140" y="1176.0" text-anchor="end">50</text>
<text class="t" x="140" y="747.5" text-anchor="end">100</text>
<text class="t" x="140" y="319.0" text-anchor="end">150</text>
<text class="T" x="918.8" y="1769" text-anchor="middle">Life Expectancy</text>
<text class="T" transform="translate(57.2,844.6) rotate(-90)" text-anchor="middle">Density of Nurses and Mid-Wives</text>
<text class="T" x="1748" y="526.6">Region</text>
<g class="p">
<circle class="c0" cx="1782.9" cy="589.2" r="7.3"/>
<circle class="c1" cx="1782.9" cy="661.2" r="7.3"/>
<circle class="c2" cx="1782.9" cy="733.2" r="7.3"/>
<circle class="c3" cx="1782.9" cy="805.2" r="7.3"/>
<circle class="c4" cx="1782.9" cy="877.2" r="7.3"/>
<circle class="c5" cx="1782.9" cy="949.2" r="7.3"/>
<circle class="c6" cx="1782.9" cy="1021.2" r="7.3"/>
<circle class="c7" cx="1782.9" cy="1093.2" r="7.3"/>
<circle class="c8" cx="1782.9" cy="1165.2" r="7.3"/>
</g>
<text class="t" x="1842" y="603.4">Africa</text>
<text class="t" x="1842" y="675.4">Asia</text>
<text class="t" x="1842" y="747.4">Central America and Caribbean</text>
<text class="t" x="1842" y="819.4">European Union</text>
<text class="t" x="1842" y="891.4">Middle East</text>
<text class="t" x="1842" y="963.4">North America</text>
<text class="t" x="1842" y="1035.4">Oceania</text>
<text class="t" x="1842" y="1107.4">Rest of Europe</text>
<text class="t" x="1842" y="1179.4">South America</text>
</svg>
</body></html>
